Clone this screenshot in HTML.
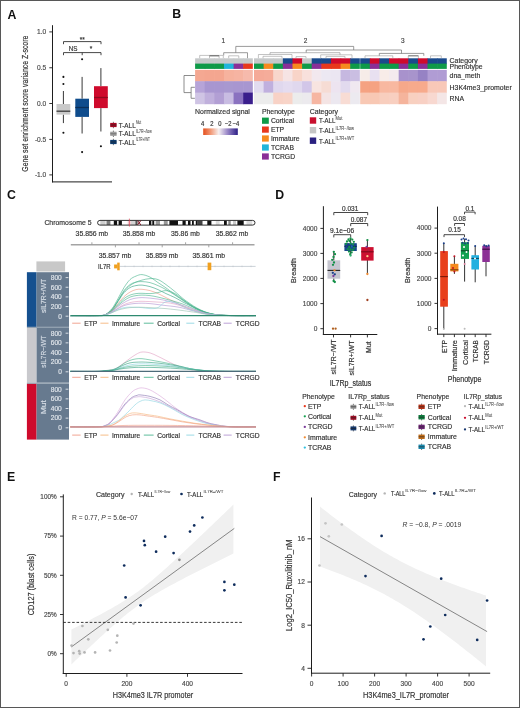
<!DOCTYPE html>
<html><head><meta charset="utf-8"><title>Figure</title>
<style>html,body{margin:0;padding:0;background:#fff;}body{width:520px;height:708px;overflow:hidden;font-family:"Liberation Sans",sans-serif;}svg{display:block;will-change:transform;filter:blur(0.3px);}</style>
</head><body>
<svg width="520" height="708" viewBox="0 0 520 708" font-family="'Liberation Sans', sans-serif"><text x="7.50" y="18.70" font-size="12.30" fill="#111" font-weight="bold" >A</text>
<line x1="52.50" y1="25.20" x2="52.50" y2="182.40" stroke="#1e1e1e" stroke-width="1" />
<line x1="52.00" y1="181.90" x2="112.00" y2="181.90" stroke="#1e1e1e" stroke-width="1" />
<line x1="49.30" y1="31.90" x2="52.50" y2="31.90" stroke="#1e1e1e" stroke-width="0.9" />
<text x="46.30" y="34.20" font-size="7.26" fill="#4a4a4a" text-anchor="end" textLength="9.18" lengthAdjust="spacingAndGlyphs" stroke="#4a4a4a" stroke-width="0.18" >1.0</text>
<line x1="49.30" y1="67.75" x2="52.50" y2="67.75" stroke="#1e1e1e" stroke-width="0.9" />
<text x="46.30" y="70.05" font-size="7.26" fill="#4a4a4a" text-anchor="end" textLength="9.18" lengthAdjust="spacingAndGlyphs" stroke="#4a4a4a" stroke-width="0.18" >0.5</text>
<line x1="49.30" y1="103.50" x2="52.50" y2="103.50" stroke="#1e1e1e" stroke-width="0.9" />
<text x="46.30" y="105.80" font-size="7.26" fill="#4a4a4a" text-anchor="end" textLength="9.18" lengthAdjust="spacingAndGlyphs" stroke="#4a4a4a" stroke-width="0.18" >0.0</text>
<line x1="49.30" y1="139.40" x2="52.50" y2="139.40" stroke="#1e1e1e" stroke-width="0.9" />
<text x="46.30" y="141.70" font-size="7.26" fill="#4a4a4a" text-anchor="end" textLength="11.37" lengthAdjust="spacingAndGlyphs" stroke="#4a4a4a" stroke-width="0.18" >-0.5</text>
<line x1="49.30" y1="174.90" x2="52.50" y2="174.90" stroke="#1e1e1e" stroke-width="0.9" />
<text x="46.30" y="177.20" font-size="7.26" fill="#4a4a4a" text-anchor="end" textLength="11.37" lengthAdjust="spacingAndGlyphs" stroke="#4a4a4a" stroke-width="0.18" >-1.0</text>
<text x="28.00" y="103.70" font-size="8.58" fill="#333333" text-anchor="middle" textLength="136.00" lengthAdjust="spacingAndGlyphs" transform="rotate(-90 28.00 103.70)" stroke="#333333" stroke-width="0.18" >Gene set enrichment score variance Z-score</text>
<path d="M63.50,44.20 L63.50,41.60 L101.00,41.60 L101.00,44.20" stroke="#333" fill="none" stroke-width="0.9" />
<path d="M63.50,55.20 L63.50,52.60 L101.00,52.60 L101.00,55.20" stroke="#333" fill="none" stroke-width="0.9" />
<line x1="82.20" y1="52.60" x2="82.20" y2="55.20" stroke="#333" stroke-width="0.9" />
<text x="82.30" y="41.80" font-size="7.15" fill="#333" text-anchor="middle" textLength="5.06" lengthAdjust="spacingAndGlyphs" stroke="#333" stroke-width="0.18" >**</text>
<text x="73.20" y="51.20" font-size="6.93" fill="#333" text-anchor="middle" textLength="8.75" lengthAdjust="spacingAndGlyphs" stroke="#333" stroke-width="0.18" >NS</text>
<text x="91.00" y="50.60" font-size="7.15" fill="#333" text-anchor="middle" textLength="2.53" lengthAdjust="spacingAndGlyphs" stroke="#333" stroke-width="0.18" >*</text>
<line x1="63.40" y1="91.00" x2="63.40" y2="104.00" stroke="#383838" stroke-width="1.0" />
<line x1="63.40" y1="114.60" x2="63.40" y2="123.10" stroke="#383838" stroke-width="1.0" />
<rect x="56.50" y="104.00" width="13.80" height="10.60" fill="#c9c9c9" />
<line x1="56.50" y1="111.20" x2="70.30" y2="111.20" stroke="#3b3b3b" stroke-width="1.3" />
<circle cx="63.40" cy="76.90" r="1.05" fill="#111" />
<circle cx="63.40" cy="84.00" r="1.05" fill="#111" />
<circle cx="63.40" cy="132.80" r="1.05" fill="#111" />
<line x1="82.10" y1="76.90" x2="82.10" y2="98.70" stroke="#383838" stroke-width="1.0" />
<line x1="82.10" y1="116.90" x2="82.10" y2="133.50" stroke="#383838" stroke-width="1.0" />
<rect x="75.30" y="98.70" width="13.70" height="18.20" fill="#0f4c8c" />
<line x1="75.30" y1="107.50" x2="89.00" y2="107.50" stroke="#0b2f58" stroke-width="1.3" />
<circle cx="82.10" cy="59.30" r="1.05" fill="#111" />
<circle cx="82.10" cy="152.10" r="1.05" fill="#111" />
<line x1="100.90" y1="68.10" x2="100.90" y2="86.20" stroke="#383838" stroke-width="1.0" />
<line x1="100.90" y1="108.10" x2="100.90" y2="131.50" stroke="#383838" stroke-width="1.0" />
<rect x="94.00" y="86.20" width="13.80" height="21.90" fill="#cf0a2c" />
<line x1="94.00" y1="97.50" x2="107.80" y2="97.50" stroke="#8e0a1f" stroke-width="1.3" />
<circle cx="100.90" cy="146.30" r="1.05" fill="#111" />
<line x1="113.40" y1="121.80" x2="113.40" y2="128.20" stroke="#555" stroke-width="0.8" />
<rect x="110.20" y="122.90" width="6.40" height="4.20" fill="#a50823" />
<line x1="110.20" y1="125.00" x2="116.60" y2="125.00" stroke="#222" stroke-width="0.6" />
<text x="118.70" y="127.50" font-size="7.70" fill="#333333" textLength="17.00" lengthAdjust="spacingAndGlyphs" stroke="#333333" stroke-width="0.18" >T-ALL</text>
<text x="136.00" y="124.10" font-size="4.62" fill="#444" textLength="5.25" lengthAdjust="spacingAndGlyphs" stroke="#444" stroke-width="0.05" >Mut</text>
<line x1="113.40" y1="130.60" x2="113.40" y2="137.00" stroke="#555" stroke-width="0.8" />
<rect x="110.20" y="131.70" width="6.40" height="4.20" fill="#a0a0a0" />
<line x1="110.20" y1="133.80" x2="116.60" y2="133.80" stroke="#555" stroke-width="0.6" />
<text x="118.70" y="136.30" font-size="7.70" fill="#333333" textLength="17.00" lengthAdjust="spacingAndGlyphs" stroke="#333333" stroke-width="0.18" >T-ALL</text>
<text x="136.00" y="132.90" font-size="4.62" fill="#444" textLength="15.75" lengthAdjust="spacingAndGlyphs" stroke="#444" stroke-width="0.05" >IL7R−/low</text>
<line x1="113.40" y1="138.80" x2="113.40" y2="145.20" stroke="#555" stroke-width="0.8" />
<rect x="110.20" y="139.90" width="6.40" height="4.20" fill="#0c3c70" />
<line x1="110.20" y1="142.00" x2="116.60" y2="142.00" stroke="#222" stroke-width="0.6" />
<text x="118.70" y="144.50" font-size="7.70" fill="#333333" textLength="17.00" lengthAdjust="spacingAndGlyphs" stroke="#333333" stroke-width="0.18" >T-ALL</text>
<text x="136.00" y="141.10" font-size="4.62" fill="#444" textLength="14.00" lengthAdjust="spacingAndGlyphs" stroke="#444" stroke-width="0.05" >IL7R+/WT</text>
<text x="172.30" y="17.60" font-size="12.30" fill="#111" font-weight="bold" >B</text>
<rect x="195.10" y="58.30" width="10.22" height="5.80" fill="#c6c9ca" />
<rect x="195.10" y="63.60" width="10.22" height="5.30" fill="#0e9a48" />
<rect x="195.10" y="69.90" width="10.22" height="11.80" fill="#f4a892" />
<rect x="195.10" y="81.20" width="10.22" height="11.90" fill="#b6a4d8" />
<rect x="195.10" y="92.60" width="10.22" height="11.60" fill="#cfc4e4" />
<rect x="204.72" y="58.30" width="10.22" height="5.80" fill="#c6c9ca" />
<rect x="204.72" y="63.60" width="10.22" height="5.30" fill="#0e9a48" />
<rect x="204.72" y="69.90" width="10.22" height="11.80" fill="#f4a690" />
<rect x="204.72" y="81.20" width="10.22" height="11.90" fill="#a896d0" />
<rect x="204.72" y="92.60" width="10.22" height="11.60" fill="#c0b0dc" />
<rect x="214.34" y="58.30" width="10.22" height="5.80" fill="#c6c9ca" />
<rect x="214.34" y="63.60" width="10.22" height="5.30" fill="#0e9a48" />
<rect x="214.34" y="69.90" width="10.22" height="11.80" fill="#f4a690" />
<rect x="214.34" y="81.20" width="10.22" height="11.90" fill="#a896d0" />
<rect x="214.34" y="92.60" width="10.22" height="11.60" fill="#b29fd4" />
<rect x="223.96" y="58.30" width="10.22" height="5.80" fill="#c6c9ca" />
<rect x="223.96" y="63.60" width="10.22" height="5.30" fill="#1fb5da" />
<rect x="223.96" y="69.90" width="10.22" height="11.80" fill="#f6b29e" />
<rect x="223.96" y="81.20" width="10.22" height="11.90" fill="#a898d0" />
<rect x="223.96" y="92.60" width="10.22" height="11.60" fill="#c8bce2" />
<rect x="233.58" y="58.30" width="10.22" height="5.80" fill="#c6c9ca" />
<rect x="233.58" y="63.60" width="10.22" height="5.30" fill="#8a2f97" />
<rect x="233.58" y="69.90" width="10.22" height="11.80" fill="#f6b4a2" />
<rect x="233.58" y="81.20" width="10.22" height="11.90" fill="#a896d0" />
<rect x="233.58" y="92.60" width="10.22" height="11.60" fill="#8a72c0" />
<rect x="243.20" y="58.30" width="9.62" height="5.80" fill="#c6c9ca" />
<rect x="243.20" y="63.60" width="9.62" height="5.30" fill="#e8381c" />
<rect x="243.20" y="69.90" width="9.62" height="11.80" fill="#f6baac" />
<rect x="243.20" y="81.20" width="9.62" height="11.90" fill="#a896d0" />
<rect x="243.20" y="92.60" width="9.62" height="11.60" fill="#3a1e8c" />
<rect x="254.00" y="58.30" width="10.22" height="5.80" fill="#c6c9ca" />
<rect x="254.00" y="63.60" width="10.22" height="5.30" fill="#0e9a48" />
<rect x="254.00" y="69.90" width="10.22" height="11.80" fill="#f5aa98" />
<rect x="254.00" y="81.20" width="10.22" height="11.90" fill="#e2dcf0" />
<rect x="254.00" y="92.60" width="10.22" height="11.60" fill="#ececec" />
<rect x="263.62" y="58.30" width="10.22" height="5.80" fill="#c6c9ca" />
<rect x="263.62" y="63.60" width="10.22" height="5.30" fill="#f68a1e" />
<rect x="263.62" y="69.90" width="10.22" height="11.80" fill="#f5ac9a" />
<rect x="263.62" y="81.20" width="10.22" height="11.90" fill="#c0b0de" />
<rect x="263.62" y="92.60" width="10.22" height="11.60" fill="#ececec" />
<rect x="273.24" y="58.30" width="10.22" height="5.80" fill="#c6c9ca" />
<rect x="273.24" y="63.60" width="10.22" height="5.30" fill="#0e9a48" />
<rect x="273.24" y="69.90" width="10.22" height="11.80" fill="#f8d6cc" />
<rect x="273.24" y="81.20" width="10.22" height="11.90" fill="#e0d8ee" />
<rect x="273.24" y="92.60" width="10.22" height="11.60" fill="#f8d2c6" />
<rect x="282.86" y="58.30" width="10.22" height="5.80" fill="#1a4a8c" />
<rect x="282.86" y="63.60" width="10.22" height="5.30" fill="#8a2f97" />
<rect x="282.86" y="69.90" width="10.22" height="11.80" fill="#f6e4e4" />
<rect x="282.86" y="81.20" width="10.22" height="11.90" fill="#e4dcf0" />
<rect x="282.86" y="92.60" width="10.22" height="11.60" fill="#f8d4c8" />
<rect x="292.48" y="58.30" width="10.22" height="5.80" fill="#cf0a2c" />
<rect x="292.48" y="63.60" width="10.22" height="5.30" fill="#f68a1e" />
<rect x="292.48" y="69.90" width="10.22" height="11.80" fill="#f8d4c8" />
<rect x="292.48" y="81.20" width="10.22" height="11.90" fill="#e0d8ee" />
<rect x="292.48" y="92.60" width="10.22" height="11.60" fill="#ececec" />
<rect x="302.10" y="58.30" width="10.22" height="5.80" fill="#c6c9ca" />
<rect x="302.10" y="63.60" width="10.22" height="5.30" fill="#0e9a48" />
<rect x="302.10" y="69.90" width="10.22" height="11.80" fill="#f8e0dc" />
<rect x="302.10" y="81.20" width="10.22" height="11.90" fill="#d2c6e8" />
<rect x="302.10" y="92.60" width="10.22" height="11.60" fill="#eceaee" />
<rect x="311.72" y="58.30" width="10.22" height="5.80" fill="#1a4a8c" />
<rect x="311.72" y="63.60" width="10.22" height="5.30" fill="#8a2f97" />
<rect x="311.72" y="69.90" width="10.22" height="11.80" fill="#f2e8ee" />
<rect x="311.72" y="81.20" width="10.22" height="11.90" fill="#f8e4e0" />
<rect x="311.72" y="92.60" width="10.22" height="11.60" fill="#f6b6a2" />
<rect x="321.34" y="58.30" width="10.22" height="5.80" fill="#1a4a8c" />
<rect x="321.34" y="63.60" width="10.22" height="5.30" fill="#e8381c" />
<rect x="321.34" y="69.90" width="10.22" height="11.80" fill="#ece8f2" />
<rect x="321.34" y="81.20" width="10.22" height="11.90" fill="#f6dcd4" />
<rect x="321.34" y="92.60" width="10.22" height="11.60" fill="#f4e4e4" />
<rect x="330.96" y="58.30" width="10.22" height="5.80" fill="#cf0a2c" />
<rect x="330.96" y="63.60" width="10.22" height="5.30" fill="#e8381c" />
<rect x="330.96" y="69.90" width="10.22" height="11.80" fill="#ebe6f2" />
<rect x="330.96" y="81.20" width="10.22" height="11.90" fill="#ede4f0" />
<rect x="330.96" y="92.60" width="10.22" height="11.60" fill="#ece8f0" />
<rect x="340.58" y="58.30" width="10.22" height="5.80" fill="#cf0a2c" />
<rect x="340.58" y="63.60" width="10.22" height="5.30" fill="#f68a1e" />
<rect x="340.58" y="69.90" width="10.22" height="11.80" fill="#c6b8e0" />
<rect x="340.58" y="81.20" width="10.22" height="11.90" fill="#e2daee" />
<rect x="340.58" y="92.60" width="10.22" height="11.60" fill="#f8dcd4" />
<rect x="350.20" y="58.30" width="9.62" height="5.80" fill="#1a4a8c" />
<rect x="350.20" y="63.60" width="9.62" height="5.30" fill="#0e9a48" />
<rect x="350.20" y="69.90" width="9.62" height="11.80" fill="#cabee2" />
<rect x="350.20" y="81.20" width="9.62" height="11.90" fill="#f0e8f0" />
<rect x="350.20" y="92.60" width="9.62" height="11.60" fill="#eceaf0" />
<rect x="360.20" y="58.30" width="10.22" height="5.80" fill="#1a4a8c" />
<rect x="360.20" y="63.60" width="10.22" height="5.30" fill="#0e9a48" />
<rect x="360.20" y="69.90" width="10.22" height="11.80" fill="#f6ece8" />
<rect x="360.20" y="81.20" width="10.22" height="11.90" fill="#f5a282" />
<rect x="360.20" y="92.60" width="10.22" height="11.60" fill="#f8c8b4" />
<rect x="369.82" y="58.30" width="10.22" height="5.80" fill="#cf0a2c" />
<rect x="369.82" y="63.60" width="10.22" height="5.30" fill="#8a2f97" />
<rect x="369.82" y="69.90" width="10.22" height="11.80" fill="#e8e0f0" />
<rect x="369.82" y="81.20" width="10.22" height="11.90" fill="#f5a282" />
<rect x="369.82" y="92.60" width="10.22" height="11.60" fill="#f8c8b4" />
<rect x="379.44" y="58.30" width="10.22" height="5.80" fill="#1a4a8c" />
<rect x="379.44" y="63.60" width="10.22" height="5.30" fill="#0e9a48" />
<rect x="379.44" y="69.90" width="10.22" height="11.80" fill="#f8ece8" />
<rect x="379.44" y="81.20" width="10.22" height="11.90" fill="#f8b8a0" />
<rect x="379.44" y="92.60" width="10.22" height="11.60" fill="#f8cebe" />
<rect x="389.06" y="58.30" width="10.22" height="5.80" fill="#cf0a2c" />
<rect x="389.06" y="63.60" width="10.22" height="5.30" fill="#0e9a48" />
<rect x="389.06" y="69.90" width="10.22" height="11.80" fill="#f4eaee" />
<rect x="389.06" y="81.20" width="10.22" height="11.90" fill="#f8b8a0" />
<rect x="389.06" y="92.60" width="10.22" height="11.60" fill="#f8cfc0" />
<rect x="398.68" y="58.30" width="10.22" height="5.80" fill="#cf0a2c" />
<rect x="398.68" y="63.60" width="10.22" height="5.30" fill="#8a2f97" />
<rect x="398.68" y="69.90" width="10.22" height="11.80" fill="#a892cc" />
<rect x="398.68" y="81.20" width="10.22" height="11.90" fill="#f6a88a" />
<rect x="398.68" y="92.60" width="10.22" height="11.60" fill="#f5b49c" />
<rect x="408.30" y="58.30" width="10.22" height="5.80" fill="#1a4a8c" />
<rect x="408.30" y="63.60" width="10.22" height="5.30" fill="#0e9a48" />
<rect x="408.30" y="69.90" width="10.22" height="11.80" fill="#a894cc" />
<rect x="408.30" y="81.20" width="10.22" height="11.90" fill="#f7aa8c" />
<rect x="408.30" y="92.60" width="10.22" height="11.60" fill="#f8d0c0" />
<rect x="417.92" y="58.30" width="10.22" height="5.80" fill="#cf0a2c" />
<rect x="417.92" y="63.60" width="10.22" height="5.30" fill="#8a2f97" />
<rect x="417.92" y="69.90" width="10.22" height="11.80" fill="#9682c4" />
<rect x="417.92" y="81.20" width="10.22" height="11.90" fill="#f7aa8c" />
<rect x="417.92" y="92.60" width="10.22" height="11.60" fill="#f8d0c4" />
<rect x="427.54" y="58.30" width="10.22" height="5.80" fill="#1a4a8c" />
<rect x="427.54" y="63.60" width="10.22" height="5.30" fill="#0e9a48" />
<rect x="427.54" y="69.90" width="10.22" height="11.80" fill="#b09cd4" />
<rect x="427.54" y="81.20" width="10.22" height="11.90" fill="#f8c8b8" />
<rect x="427.54" y="92.60" width="10.22" height="11.60" fill="#f8d8d0" />
<rect x="437.16" y="58.30" width="9.62" height="5.80" fill="#1a4a8c" />
<rect x="437.16" y="63.60" width="9.62" height="5.30" fill="#0e9a48" />
<rect x="437.16" y="69.90" width="9.62" height="11.80" fill="#b09cd4" />
<rect x="437.16" y="81.20" width="9.62" height="11.90" fill="#f8c8b8" />
<rect x="437.16" y="92.60" width="9.62" height="11.60" fill="#f4e6e6" />
<text x="449.60" y="63.00" font-size="7.59" fill="#333333" textLength="28.00" lengthAdjust="spacingAndGlyphs" stroke="#333333" stroke-width="0.18" >Category</text>
<text x="449.60" y="69.30" font-size="7.59" fill="#333333" textLength="32.99" lengthAdjust="spacingAndGlyphs" stroke="#333333" stroke-width="0.18" >Phenotype</text>
<text x="449.60" y="78.20" font-size="7.59" fill="#333333" textLength="30.69" lengthAdjust="spacingAndGlyphs" stroke="#333333" stroke-width="0.18" >dna_meth</text>
<text x="449.60" y="89.50" font-size="7.59" fill="#333333" textLength="62.13" lengthAdjust="spacingAndGlyphs" stroke="#333333" stroke-width="0.18" >H3K4me3_promoter</text>
<text x="449.60" y="101.00" font-size="7.59" fill="#333333" textLength="14.57" lengthAdjust="spacingAndGlyphs" stroke="#333333" stroke-width="0.18" >RNA</text>
<text x="223.20" y="42.60" font-size="7.15" fill="#444" text-anchor="middle" textLength="3.62" lengthAdjust="spacingAndGlyphs" stroke="#444" stroke-width="0.18" >1</text>
<text x="305.60" y="42.60" font-size="7.15" fill="#444" text-anchor="middle" textLength="3.62" lengthAdjust="spacingAndGlyphs" stroke="#444" stroke-width="0.18" >2</text>
<text x="402.80" y="42.60" font-size="7.15" fill="#444" text-anchor="middle" textLength="3.62" lengthAdjust="spacingAndGlyphs" stroke="#444" stroke-width="0.18" >3</text>
<path d="M235.8,52.7 L235.8,46.4 L353.7,46.4 L353.7,50.0" stroke="#707070" fill="none" stroke-width="0.7" />
<path d="M223.7,55.4 L223.7,52.7 L247.5,52.7 L247.5,58.2" stroke="#707070" fill="none" stroke-width="0.7" />
<path d="M306.2,52.7 L306.2,50.0 L401.5,50.0 L401.5,53.4" stroke="#707070" fill="none" stroke-width="0.7" />
<path d="M379.3,55.8 L379.3,53.4 L423.8,53.4 L423.8,55.8" stroke="#707070" fill="none" stroke-width="0.7" />
<path d="M270.0,54.5 L270.0,52.7 L340.0,52.7 L340.0,54.8" stroke="#9a9a9a" fill="none" stroke-width="0.7" />
<path d="M199.7,58.2 L199.7,55.4 L223.3,55.4 L223.3,58.2" stroke="#9a9a9a" fill="none" stroke-width="0.6" />
<path d="M209.5,58.2 L209.5,55.8 L219.1,55.8 L219.1,58.2" stroke="#9a9a9a" fill="none" stroke-width="0.6" />
<path d="M228.7,58.2 L228.7,55.8 L238.8,55.8 L238.8,58.2" stroke="#9a9a9a" fill="none" stroke-width="0.6" />
<path d="M258.4,58.2 L258.4,54.5 L292.0,54.5 L292.0,58.2" stroke="#9a9a9a" fill="none" stroke-width="0.6" />
<path d="M263.0,58.2 L263.0,56.3 L282.0,56.3 L282.0,58.2" stroke="#9a9a9a" fill="none" stroke-width="0.6" />
<path d="M320.7,58.2 L320.7,54.8 L352.0,54.8 L352.0,58.2" stroke="#9a9a9a" fill="none" stroke-width="0.6" />
<path d="M326.0,58.2 L326.0,56.4 L345.0,56.4 L345.0,58.2" stroke="#9a9a9a" fill="none" stroke-width="0.6" />
<path d="M365.0,58.2 L365.0,55.8 L392.8,55.8 L392.8,58.2" stroke="#9a9a9a" fill="none" stroke-width="0.6" />
<path d="M408.3,58.2 L408.3,55.8 L418.4,55.8 L418.4,58.2" stroke="#9a9a9a" fill="none" stroke-width="0.6" />
<path d="M430.5,58.2 L430.5,55.8 L441.3,55.8 L441.3,58.2" stroke="#9a9a9a" fill="none" stroke-width="0.6" />
<path d="M296.0,58.2 L296.0,56.6 L306.0,56.6 L306.0,58.2" stroke="#9a9a9a" fill="none" stroke-width="0.6" />
<path d="M209.5,55.8 L219.1,55.8" stroke="#555" fill="none" stroke-width="0.8" />
<path d="M408.3,55.8 L418.4,55.8" stroke="#666" fill="none" stroke-width="0.8" />
<path d="M194.9,75.5 L184.0,75.5 L184.0,92.6 L191.1,92.6" stroke="#707070" fill="none" stroke-width="0.8" />
<path d="M194.9,87.3 L191.1,87.3 L191.1,98.3 L194.9,98.3" stroke="#707070" fill="none" stroke-width="0.8" />
<text x="195.10" y="113.70" font-size="7.59" fill="#333333" textLength="54.80" lengthAdjust="spacingAndGlyphs" stroke="#333333" stroke-width="0.18" >Normalized signal</text>
<text x="202.60" y="125.60" font-size="6.38" fill="#333333" text-anchor="middle" textLength="3.23" lengthAdjust="spacingAndGlyphs" stroke="#333333" stroke-width="0.18" >4</text>
<text x="211.90" y="125.60" font-size="6.38" fill="#333333" text-anchor="middle" textLength="3.23" lengthAdjust="spacingAndGlyphs" stroke="#333333" stroke-width="0.18" >2</text>
<text x="219.80" y="125.60" font-size="6.38" fill="#333333" text-anchor="middle" textLength="3.23" lengthAdjust="spacingAndGlyphs" stroke="#333333" stroke-width="0.18" >0</text>
<text x="228.20" y="125.60" font-size="6.38" fill="#333333" text-anchor="middle" textLength="6.61" lengthAdjust="spacingAndGlyphs" stroke="#333333" stroke-width="0.18" >−2</text>
<text x="236.00" y="125.60" font-size="6.38" fill="#333333" text-anchor="middle" textLength="6.61" lengthAdjust="spacingAndGlyphs" stroke="#333333" stroke-width="0.18" >−4</text>
<defs><linearGradient id="gsig" x1="0" x2="1" y1="0" y2="0"><stop offset="0" stop-color="#e4501e"/><stop offset="0.22" stop-color="#f29a78"/><stop offset="0.45" stop-color="#f6f0f0"/><stop offset="0.7" stop-color="#9a88c8"/><stop offset="1" stop-color="#2c1e86"/></linearGradient></defs>
<rect x="203.20" y="128.40" width="34.60" height="6.60" fill="url(#gsig)" />
<text x="261.90" y="113.80" font-size="7.59" fill="#333333" textLength="32.90" lengthAdjust="spacingAndGlyphs" stroke="#333333" stroke-width="0.18" >Phenotype</text>
<rect x="262.00" y="117.60" width="6.80" height="6.20" fill="#0e9a48" />
<text x="270.90" y="123.20" font-size="7.48" fill="#333333" textLength="23.05" lengthAdjust="spacingAndGlyphs" stroke="#333333" stroke-width="0.18" >Cortical</text>
<rect x="262.00" y="126.50" width="6.80" height="6.20" fill="#e8381c" />
<text x="270.90" y="132.10" font-size="7.48" fill="#333333" textLength="13.23" lengthAdjust="spacingAndGlyphs" stroke="#333333" stroke-width="0.18" >ETP</text>
<rect x="262.00" y="135.40" width="6.80" height="6.20" fill="#f68a1e" />
<text x="270.90" y="141.00" font-size="7.48" fill="#333333" textLength="28.72" lengthAdjust="spacingAndGlyphs" stroke="#333333" stroke-width="0.18" >Immature</text>
<rect x="262.00" y="144.40" width="6.80" height="6.20" fill="#1fb5da" />
<text x="270.90" y="150.00" font-size="7.48" fill="#333333" textLength="23.05" lengthAdjust="spacingAndGlyphs" stroke="#333333" stroke-width="0.18" >TCRAB</text>
<rect x="262.00" y="153.40" width="6.80" height="6.20" fill="#8a2f97" />
<text x="270.90" y="159.00" font-size="7.48" fill="#333333" textLength="24.18" lengthAdjust="spacingAndGlyphs" stroke="#333333" stroke-width="0.18" >TCRGD</text>
<text x="309.80" y="113.80" font-size="7.59" fill="#333333" textLength="28.20" lengthAdjust="spacingAndGlyphs" stroke="#333333" stroke-width="0.18" >Category</text>
<rect x="309.80" y="117.30" width="6.40" height="6.40" fill="#c8102e" />
<text x="319.00" y="123.30" font-size="7.59" fill="#333333" textLength="16.30" lengthAdjust="spacingAndGlyphs" stroke="#333333" stroke-width="0.18" >T-ALL</text>
<text x="335.60" y="119.90" font-size="4.51" fill="#444" textLength="6.83" lengthAdjust="spacingAndGlyphs" stroke="#444" stroke-width="0.05" >Mut</text>
<rect x="309.80" y="127.00" width="6.40" height="6.40" fill="#c6c6c6" />
<text x="319.00" y="133.00" font-size="7.59" fill="#333333" textLength="16.30" lengthAdjust="spacingAndGlyphs" stroke="#333333" stroke-width="0.18" >T-ALL</text>
<text x="335.60" y="129.60" font-size="4.51" fill="#444" textLength="18.35" lengthAdjust="spacingAndGlyphs" stroke="#444" stroke-width="0.05" >IL7R−/low</text>
<rect x="309.80" y="137.50" width="6.40" height="6.40" fill="#2a2080" />
<text x="319.00" y="143.50" font-size="7.59" fill="#333333" textLength="16.30" lengthAdjust="spacingAndGlyphs" stroke="#333333" stroke-width="0.18" >T-ALL</text>
<text x="335.60" y="140.10" font-size="4.51" fill="#444" textLength="18.57" lengthAdjust="spacingAndGlyphs" stroke="#444" stroke-width="0.05" >IL7R+/WT</text>
<text x="7.10" y="199.00" font-size="12.30" fill="#111" font-weight="bold" >C</text>
<text x="44.40" y="224.60" font-size="7.59" fill="#333333" textLength="47.10" lengthAdjust="spacingAndGlyphs" stroke="#333333" stroke-width="0.18" >Chromosome 5</text>
<clipPath id="idc"><rect x="97.6" y="220.4" width="157.4" height="4.7" rx="2.35" ry="2.35"/></clipPath>
<rect x="97.6" y="220.4" width="157.4" height="4.7" rx="2.35" ry="2.35" fill="#fff"/>
<g clip-path="url(#idc)">
<rect x="100.30" y="220.40" width="5.30" height="4.70" fill="#cfcfcf" />
<rect x="106.50" y="220.40" width="3.90" height="4.70" fill="#7a7a7a" />
<rect x="113.80" y="220.40" width="3.30" height="4.70" fill="#111" />
<rect x="118.60" y="220.40" width="3.30" height="4.70" fill="#111" />
<rect x="127.70" y="220.40" width="3.30" height="4.70" fill="#f4d0d6" />
<rect x="131.00" y="220.40" width="4.40" height="4.70" fill="#d4d4d4" />
<rect x="135.40" y="220.40" width="2.20" height="4.70" fill="#555" />
<rect x="149.00" y="220.40" width="2.30" height="4.70" fill="#111" />
<rect x="152.30" y="220.40" width="1.90" height="4.70" fill="#111" />
<rect x="155.70" y="220.40" width="4.30" height="4.70" fill="#9a9a9a" />
<rect x="163.80" y="220.40" width="3.90" height="4.70" fill="#9a9a9a" />
<rect x="169.40" y="220.40" width="8.60" height="4.70" fill="#111" />
<rect x="182.50" y="220.40" width="3.20" height="4.70" fill="#111" />
<rect x="188.00" y="220.40" width="2.50" height="4.70" fill="#111" />
<rect x="192.00" y="220.40" width="1.80" height="4.70" fill="#111" />
<rect x="195.80" y="220.40" width="1.90" height="4.70" fill="#111" />
<rect x="197.70" y="220.40" width="4.80" height="4.70" fill="#444" />
<rect x="207.30" y="220.40" width="4.10" height="4.70" fill="#111" />
<rect x="215.80" y="220.40" width="3.80" height="4.70" fill="#dddddd" />
<rect x="224.00" y="220.40" width="2.80" height="4.70" fill="#111" />
<rect x="228.30" y="220.40" width="2.40" height="4.70" fill="#888" />
<rect x="233.00" y="220.40" width="3.00" height="4.70" fill="#cccccc" />
<rect x="237.40" y="220.40" width="6.30" height="4.70" fill="#111" />
<rect x="246.50" y="220.40" width="5.80" height="4.70" fill="#dddddd" />
</g>
<rect x="97.6" y="220.4" width="157.4" height="4.7" rx="2.35" ry="2.35" fill="none" stroke="#1a1a1a" stroke-width="0.9"/>
<path d="M137.6,220.6 L140.8,224.9 M137.6,224.9 L140.8,220.6" stroke="#7a1020" fill="none" stroke-width="1.0" />
<line x1="129.40" y1="218.60" x2="129.40" y2="226.60" stroke="#e04050" stroke-width="0.7" />
<line x1="70.80" y1="244.80" x2="254.50" y2="244.80" stroke="#a4a4a4" stroke-width="1.4" />
<line x1="91.90" y1="242.30" x2="91.90" y2="244.80" stroke="#9a9a9a" stroke-width="0.9" />
<line x1="139.00" y1="242.30" x2="139.00" y2="244.80" stroke="#9a9a9a" stroke-width="0.9" />
<line x1="185.60" y1="242.30" x2="185.60" y2="244.80" stroke="#9a9a9a" stroke-width="0.9" />
<line x1="232.60" y1="242.30" x2="232.60" y2="244.80" stroke="#9a9a9a" stroke-width="0.9" />
<line x1="115.40" y1="244.80" x2="115.40" y2="247.30" stroke="#9a9a9a" stroke-width="0.9" />
<line x1="162.20" y1="244.80" x2="162.20" y2="247.30" stroke="#9a9a9a" stroke-width="0.9" />
<line x1="208.80" y1="244.80" x2="208.80" y2="247.30" stroke="#9a9a9a" stroke-width="0.9" />
<text x="91.90" y="236.10" font-size="7.59" fill="#333333" text-anchor="middle" textLength="32.61" lengthAdjust="spacingAndGlyphs" stroke="#333333" stroke-width="0.18" >35.856 mb</text>
<text x="139.00" y="236.10" font-size="7.59" fill="#333333" text-anchor="middle" textLength="32.61" lengthAdjust="spacingAndGlyphs" stroke="#333333" stroke-width="0.18" >35.858 mb</text>
<text x="185.40" y="236.10" font-size="7.59" fill="#333333" text-anchor="middle" textLength="28.77" lengthAdjust="spacingAndGlyphs" stroke="#333333" stroke-width="0.18" >35.86 mb</text>
<text x="232.00" y="236.10" font-size="7.59" fill="#333333" text-anchor="middle" textLength="32.61" lengthAdjust="spacingAndGlyphs" stroke="#333333" stroke-width="0.18" >35.862 mb</text>
<text x="115.00" y="257.50" font-size="7.59" fill="#333333" text-anchor="middle" textLength="32.61" lengthAdjust="spacingAndGlyphs" stroke="#333333" stroke-width="0.18" >35.857 mb</text>
<text x="162.00" y="257.50" font-size="7.59" fill="#333333" text-anchor="middle" textLength="32.61" lengthAdjust="spacingAndGlyphs" stroke="#333333" stroke-width="0.18" >35.859 mb</text>
<text x="208.70" y="257.50" font-size="7.59" fill="#333333" text-anchor="middle" textLength="32.61" lengthAdjust="spacingAndGlyphs" stroke="#333333" stroke-width="0.18" >35.861 mb</text>
<text x="98.00" y="268.90" font-size="7.26" fill="#333333" textLength="12.60" lengthAdjust="spacingAndGlyphs" stroke="#333333" stroke-width="0.18" >IL7R</text>
<line x1="119.50" y1="266.40" x2="255.60" y2="266.40" stroke="#a8b4bc" stroke-width="0.6" />
<line x1="125.00" y1="265.60" x2="125.00" y2="267.20" stroke="#b0b8c0" stroke-width="0.5" />
<line x1="134.00" y1="265.60" x2="134.00" y2="267.20" stroke="#b0b8c0" stroke-width="0.5" />
<line x1="143.00" y1="265.60" x2="143.00" y2="267.20" stroke="#b0b8c0" stroke-width="0.5" />
<line x1="152.00" y1="265.60" x2="152.00" y2="267.20" stroke="#b0b8c0" stroke-width="0.5" />
<line x1="161.00" y1="265.60" x2="161.00" y2="267.20" stroke="#b0b8c0" stroke-width="0.5" />
<line x1="170.00" y1="265.60" x2="170.00" y2="267.20" stroke="#b0b8c0" stroke-width="0.5" />
<line x1="179.00" y1="265.60" x2="179.00" y2="267.20" stroke="#b0b8c0" stroke-width="0.5" />
<line x1="188.00" y1="265.60" x2="188.00" y2="267.20" stroke="#b0b8c0" stroke-width="0.5" />
<line x1="197.00" y1="265.60" x2="197.00" y2="267.20" stroke="#b0b8c0" stroke-width="0.5" />
<line x1="206.00" y1="265.60" x2="206.00" y2="267.20" stroke="#b0b8c0" stroke-width="0.5" />
<line x1="215.00" y1="265.60" x2="215.00" y2="267.20" stroke="#b0b8c0" stroke-width="0.5" />
<line x1="224.00" y1="265.60" x2="224.00" y2="267.20" stroke="#b0b8c0" stroke-width="0.5" />
<line x1="233.00" y1="265.60" x2="233.00" y2="267.20" stroke="#b0b8c0" stroke-width="0.5" />
<line x1="242.00" y1="265.60" x2="242.00" y2="267.20" stroke="#b0b8c0" stroke-width="0.5" />
<line x1="251.00" y1="265.60" x2="251.00" y2="267.20" stroke="#b0b8c0" stroke-width="0.5" />
<rect x="114.10" y="264.50" width="3.40" height="3.90" fill="#f0a020" />
<rect x="117.20" y="262.60" width="2.50" height="7.70" fill="#f0a020" />
<rect x="207.60" y="262.60" width="3.70" height="7.60" fill="#f0a020" />
<rect x="36.40" y="261.40" width="28.70" height="10.10" fill="#c8c8c8" />
<rect x="26.90" y="272.20" width="9.70" height="54.70" fill="#15508f" />
<rect x="36.60" y="272.20" width="32.40" height="54.70" fill="#677a8f" />
<text x="61.80" y="318.50" font-size="7.26" fill="#dfe4ea" text-anchor="end" textLength="3.67" lengthAdjust="spacingAndGlyphs" stroke="#dfe4ea" stroke-width="0.18" >0</text>
<line x1="65.60" y1="316.20" x2="68.40" y2="316.20" stroke="#e6eaef" stroke-width="0.9" />
<text x="61.80" y="308.85" font-size="7.26" fill="#dfe4ea" text-anchor="end" textLength="11.01" lengthAdjust="spacingAndGlyphs" stroke="#dfe4ea" stroke-width="0.18" >200</text>
<line x1="65.60" y1="306.55" x2="68.40" y2="306.55" stroke="#e6eaef" stroke-width="0.9" />
<text x="61.80" y="299.20" font-size="7.26" fill="#dfe4ea" text-anchor="end" textLength="11.01" lengthAdjust="spacingAndGlyphs" stroke="#dfe4ea" stroke-width="0.18" >400</text>
<line x1="65.60" y1="296.90" x2="68.40" y2="296.90" stroke="#e6eaef" stroke-width="0.9" />
<text x="61.80" y="289.55" font-size="7.26" fill="#dfe4ea" text-anchor="end" textLength="11.01" lengthAdjust="spacingAndGlyphs" stroke="#dfe4ea" stroke-width="0.18" >600</text>
<line x1="65.60" y1="287.25" x2="68.40" y2="287.25" stroke="#e6eaef" stroke-width="0.9" />
<text x="61.80" y="279.90" font-size="7.26" fill="#dfe4ea" text-anchor="end" textLength="11.01" lengthAdjust="spacingAndGlyphs" stroke="#dfe4ea" stroke-width="0.18" >800</text>
<line x1="65.60" y1="277.60" x2="68.40" y2="277.60" stroke="#e6eaef" stroke-width="0.9" />
<text x="45.60" y="295.90" font-size="7.70" fill="#d3dae3" text-anchor="middle" textLength="34.30" lengthAdjust="spacingAndGlyphs" transform="rotate(-90 45.60 295.90)" stroke="#d3dae3" stroke-width="0.18" >sIL7R+/WT</text>
<rect x="26.90" y="327.90" width="9.70" height="54.80" fill="#c9c9cd" />
<rect x="36.60" y="327.90" width="32.40" height="54.80" fill="#677a8f" />
<text x="61.80" y="374.10" font-size="7.26" fill="#dfe4ea" text-anchor="end" textLength="3.67" lengthAdjust="spacingAndGlyphs" stroke="#dfe4ea" stroke-width="0.18" >0</text>
<line x1="65.60" y1="371.80" x2="68.40" y2="371.80" stroke="#e6eaef" stroke-width="0.9" />
<text x="61.80" y="364.45" font-size="7.26" fill="#dfe4ea" text-anchor="end" textLength="11.01" lengthAdjust="spacingAndGlyphs" stroke="#dfe4ea" stroke-width="0.18" >200</text>
<line x1="65.60" y1="362.15" x2="68.40" y2="362.15" stroke="#e6eaef" stroke-width="0.9" />
<text x="61.80" y="354.80" font-size="7.26" fill="#dfe4ea" text-anchor="end" textLength="11.01" lengthAdjust="spacingAndGlyphs" stroke="#dfe4ea" stroke-width="0.18" >400</text>
<line x1="65.60" y1="352.50" x2="68.40" y2="352.50" stroke="#e6eaef" stroke-width="0.9" />
<text x="61.80" y="345.15" font-size="7.26" fill="#dfe4ea" text-anchor="end" textLength="11.01" lengthAdjust="spacingAndGlyphs" stroke="#dfe4ea" stroke-width="0.18" >600</text>
<line x1="65.60" y1="342.85" x2="68.40" y2="342.85" stroke="#e6eaef" stroke-width="0.9" />
<text x="61.80" y="335.50" font-size="7.26" fill="#dfe4ea" text-anchor="end" textLength="11.01" lengthAdjust="spacingAndGlyphs" stroke="#dfe4ea" stroke-width="0.18" >800</text>
<line x1="65.60" y1="333.20" x2="68.40" y2="333.20" stroke="#e6eaef" stroke-width="0.9" />
<text x="45.60" y="351.60" font-size="7.70" fill="#d3dae3" text-anchor="middle" textLength="32.30" lengthAdjust="spacingAndGlyphs" transform="rotate(-90 45.60 351.60)" stroke="#d3dae3" stroke-width="0.18" >sIL7R−/WT</text>
<rect x="26.90" y="383.70" width="9.70" height="55.90" fill="#cf0a2c" />
<rect x="36.60" y="383.70" width="32.40" height="55.90" fill="#677a8f" />
<text x="61.80" y="430.10" font-size="7.26" fill="#dfe4ea" text-anchor="end" textLength="3.67" lengthAdjust="spacingAndGlyphs" stroke="#dfe4ea" stroke-width="0.18" >0</text>
<line x1="65.60" y1="427.80" x2="68.40" y2="427.80" stroke="#e6eaef" stroke-width="0.9" />
<text x="61.80" y="420.45" font-size="7.26" fill="#dfe4ea" text-anchor="end" textLength="11.01" lengthAdjust="spacingAndGlyphs" stroke="#dfe4ea" stroke-width="0.18" >200</text>
<line x1="65.60" y1="418.15" x2="68.40" y2="418.15" stroke="#e6eaef" stroke-width="0.9" />
<text x="61.80" y="410.80" font-size="7.26" fill="#dfe4ea" text-anchor="end" textLength="11.01" lengthAdjust="spacingAndGlyphs" stroke="#dfe4ea" stroke-width="0.18" >400</text>
<line x1="65.60" y1="408.50" x2="68.40" y2="408.50" stroke="#e6eaef" stroke-width="0.9" />
<text x="61.80" y="401.15" font-size="7.26" fill="#dfe4ea" text-anchor="end" textLength="11.01" lengthAdjust="spacingAndGlyphs" stroke="#dfe4ea" stroke-width="0.18" >600</text>
<line x1="65.60" y1="398.85" x2="68.40" y2="398.85" stroke="#e6eaef" stroke-width="0.9" />
<text x="61.80" y="391.50" font-size="7.26" fill="#dfe4ea" text-anchor="end" textLength="11.01" lengthAdjust="spacingAndGlyphs" stroke="#dfe4ea" stroke-width="0.18" >800</text>
<line x1="65.60" y1="389.20" x2="68.40" y2="389.20" stroke="#e6eaef" stroke-width="0.9" />
<text x="45.60" y="407.20" font-size="7.70" fill="#d3dae3" text-anchor="middle" textLength="14.30" lengthAdjust="spacingAndGlyphs" transform="rotate(-90 45.60 407.20)" stroke="#d3dae3" stroke-width="0.18" >Mut</text>
<rect x="26.90" y="326.90" width="42.10" height="1.00" fill="#8797a8" />
<rect x="26.90" y="382.70" width="42.10" height="1.00" fill="#8797a8" />
<g fill="none" stroke-linejoin="round">
<path d="M70.0,315.6 C74.7,315.6 92.2,315.7 98.0,315.6 C103.8,315.5 102.7,316.0 105.0,314.8 C107.3,313.6 109.8,311.3 112.0,308.6 C114.2,305.9 116.0,302.1 118.0,298.6 C120.0,295.1 122.0,290.8 124.0,287.6 C126.0,284.4 128.0,281.5 130.0,279.6 C132.0,277.7 134.0,276.9 136.0,276.1 C138.0,275.3 139.7,274.4 142.0,274.6 C144.3,274.8 147.3,275.8 150.0,277.1 C152.7,278.4 155.3,280.8 158.0,282.6 C160.7,284.4 163.2,285.9 166.0,287.9 C168.8,289.9 172.2,292.6 175.0,294.6 C177.8,296.6 180.5,298.2 183.0,299.9 C185.5,301.6 187.7,303.1 190.0,304.6 C192.3,306.1 194.5,307.5 197.0,308.7 C199.5,310.0 202.3,311.2 205.0,312.1 C207.7,313.0 210.2,313.7 213.0,314.2 C215.8,314.7 218.2,315.0 222.0,315.2 C225.8,315.5 230.3,315.5 236.0,315.6 C241.7,315.7 252.7,315.6 256.0,315.6" stroke="#4cb590" fill="none" stroke-width="0.7" stroke-opacity="0.9"/>
<path d="M70.0,315.6 C74.7,315.6 92.2,315.7 98.0,315.6 C103.8,315.5 102.7,315.8 105.0,314.8 C107.3,313.8 109.8,312.0 112.0,309.6 C114.2,307.2 116.0,303.6 118.0,300.6 C120.0,297.6 122.0,294.1 124.0,291.6 C126.0,289.1 128.0,287.2 130.0,285.6 C132.0,284.0 134.0,283.0 136.0,282.1 C138.0,281.2 139.7,280.7 142.0,280.1 C144.3,279.5 147.3,278.7 150.0,278.6 C152.7,278.5 155.3,278.6 158.0,279.6 C160.7,280.6 163.2,282.6 166.0,284.6 C168.8,286.6 172.2,289.3 175.0,291.6 C177.8,293.9 180.5,296.6 183.0,298.6 C185.5,300.6 187.7,302.0 190.0,303.6 C192.3,305.2 194.5,306.7 197.0,308.1 C199.5,309.5 202.3,310.8 205.0,311.8 C207.7,312.8 210.2,313.5 213.0,314.1 C215.8,314.7 218.2,315.0 222.0,315.2 C225.8,315.5 230.3,315.5 236.0,315.6 C241.7,315.7 252.7,315.6 256.0,315.6" stroke="#4cb590" fill="none" stroke-width="0.7" stroke-opacity="0.9"/>
<path d="M70.0,315.6 C74.7,315.6 92.2,315.7 98.0,315.6 C103.8,315.5 102.7,315.8 105.0,314.8 C107.3,313.8 109.8,312.0 112.0,309.6 C114.2,307.2 116.0,303.8 118.0,300.6 C120.0,297.4 122.0,293.3 124.0,290.6 C126.0,287.9 128.0,286.0 130.0,284.6 C132.0,283.2 134.0,282.6 136.0,282.1 C138.0,281.6 139.7,281.5 142.0,281.6 C144.3,281.7 147.3,281.9 150.0,282.6 C152.7,283.3 155.3,284.4 158.0,285.6 C160.7,286.8 163.2,288.0 166.0,289.6 C168.8,291.2 172.2,293.3 175.0,295.1 C177.8,296.9 180.5,298.9 183.0,300.6 C185.5,302.3 187.7,303.7 190.0,305.1 C192.3,306.5 194.5,307.9 197.0,309.1 C199.5,310.3 202.3,311.4 205.0,312.3 C207.7,313.2 210.2,313.8 213.0,314.3 C215.8,314.8 218.2,315.1 222.0,315.3 C225.8,315.5 230.3,315.5 236.0,315.6 C241.7,315.7 252.7,315.6 256.0,315.6" stroke="#4cb590" fill="none" stroke-width="0.7" stroke-opacity="0.9"/>
<path d="M70.0,315.6 C74.7,315.6 92.2,315.7 98.0,315.6 C103.8,315.5 102.7,315.7 105.0,314.8 C107.3,313.9 109.8,312.3 112.0,310.1 C114.2,307.9 116.0,304.5 118.0,301.6 C120.0,298.7 122.0,294.9 124.0,292.6 C126.0,290.3 128.0,288.8 130.0,287.6 C132.0,286.4 134.0,286.0 136.0,285.6 C138.0,285.2 139.7,284.9 142.0,285.1 C144.3,285.3 147.3,285.9 150.0,286.6 C152.7,287.4 155.3,288.4 158.0,289.6 C160.7,290.8 163.2,292.3 166.0,293.6 C168.8,294.9 172.2,296.2 175.0,297.6 C177.8,299.0 180.5,300.8 183.0,302.1 C185.5,303.4 187.7,304.4 190.0,305.6 C192.3,306.8 194.5,308.0 197.0,309.1 C199.5,310.2 202.3,311.4 205.0,312.3 C207.7,313.2 210.2,313.8 213.0,314.3 C215.8,314.8 218.2,315.1 222.0,315.3 C225.8,315.5 230.3,315.5 236.0,315.6 C241.7,315.7 252.7,315.6 256.0,315.6" stroke="#36a382" fill="none" stroke-width="0.7" stroke-opacity="0.9"/>
<path d="M70.0,315.6 C74.7,315.6 92.2,315.7 98.0,315.6 C103.8,315.5 102.7,315.6 105.0,314.8 C107.3,314.0 109.8,312.5 112.0,310.6 C114.2,308.7 116.0,305.9 118.0,303.6 C120.0,301.3 122.0,298.5 124.0,296.6 C126.0,294.7 128.0,293.3 130.0,292.1 C132.0,290.9 134.0,290.1 136.0,289.6 C138.0,289.1 139.7,289.1 142.0,289.3 C144.3,289.5 147.3,289.9 150.0,290.6 C152.7,291.3 155.3,292.4 158.0,293.6 C160.7,294.8 163.2,296.2 166.0,297.6 C168.8,299.0 172.2,300.7 175.0,302.1 C177.8,303.5 180.5,304.9 183.0,306.1 C185.5,307.3 187.7,308.2 190.0,309.1 C192.3,310.0 194.5,310.9 197.0,311.6 C199.5,312.4 202.3,313.1 205.0,313.6 C207.7,314.1 210.2,314.5 213.0,314.8 C215.8,315.1 218.2,315.3 222.0,315.4 C225.8,315.5 230.3,315.6 236.0,315.6 C241.7,315.6 252.7,315.6 256.0,315.6" stroke="#ef9a86" fill="none" stroke-width="0.7" stroke-opacity="0.9"/>
<path d="M70.0,315.6 C74.7,315.6 92.2,315.7 98.0,315.6 C103.8,315.5 102.7,315.6 105.0,314.8 C107.3,314.0 109.8,312.3 112.0,310.6 C114.2,308.9 116.0,306.6 118.0,304.6 C120.0,302.6 122.0,300.2 124.0,298.6 C126.0,297.0 128.0,295.9 130.0,295.1 C132.0,294.3 134.0,293.9 136.0,293.6 C138.0,293.3 139.7,293.3 142.0,293.3 C144.3,293.3 147.3,293.7 150.0,293.6 C152.7,293.5 155.3,293.1 158.0,292.6 C160.7,292.1 163.2,290.4 166.0,290.6 C168.8,290.8 172.2,292.1 175.0,293.6 C177.8,295.1 180.5,297.8 183.0,299.6 C185.5,301.4 187.7,303.1 190.0,304.6 C192.3,306.1 194.5,307.4 197.0,308.6 C199.5,309.9 202.3,311.2 205.0,312.1 C207.7,313.0 210.2,313.7 213.0,314.2 C215.8,314.7 218.2,315.0 222.0,315.2 C225.8,315.5 230.3,315.5 236.0,315.6 C241.7,315.7 252.7,315.6 256.0,315.6" stroke="#4cb590" fill="none" stroke-width="0.7" stroke-opacity="0.9"/>
<path d="M70.0,315.6 C74.7,315.6 92.2,315.7 98.0,315.6 C103.8,315.5 102.7,315.6 105.0,314.8 C107.3,314.1 109.8,312.6 112.0,311.1 C114.2,309.6 116.0,307.4 118.0,305.6 C120.0,303.9 122.0,302.0 124.0,300.6 C126.0,299.2 128.0,297.9 130.0,297.1 C132.0,296.3 134.0,295.9 136.0,295.6 C138.0,295.3 139.7,295.1 142.0,295.1 C144.3,295.1 147.3,295.3 150.0,295.6 C152.7,295.9 155.3,296.5 158.0,297.1 C160.7,297.7 163.2,298.4 166.0,299.1 C168.8,299.9 172.2,300.8 175.0,301.6 C177.8,302.4 180.5,303.2 183.0,304.1 C185.5,305.0 187.7,306.1 190.0,307.1 C192.3,308.1 194.5,309.2 197.0,310.1 C199.5,311.1 202.3,312.1 205.0,312.8 C207.7,313.5 210.2,314.1 213.0,314.5 C215.8,314.9 218.2,315.1 222.0,315.3 C225.8,315.5 230.3,315.6 236.0,315.6 C241.7,315.6 252.7,315.6 256.0,315.6" stroke="#4cb590" fill="none" stroke-width="0.7" stroke-opacity="0.9"/>
<path d="M70.0,315.6 C74.7,315.6 92.2,315.7 98.0,315.6 C103.8,315.5 102.7,315.5 105.0,314.8 C107.3,314.1 109.8,313.0 112.0,311.6 C114.2,310.2 116.0,308.1 118.0,306.6 C120.0,305.1 122.0,303.8 124.0,302.6 C126.0,301.4 128.0,300.4 130.0,299.6 C132.0,298.9 134.0,298.4 136.0,298.1 C138.0,297.8 139.7,297.6 142.0,297.6 C144.3,297.6 147.3,297.9 150.0,298.1 C152.7,298.4 155.3,298.7 158.0,299.1 C160.7,299.5 163.2,299.9 166.0,300.6 C168.8,301.3 172.2,302.3 175.0,303.1 C177.8,303.9 180.5,304.8 183.0,305.6 C185.5,306.4 187.7,307.3 190.0,308.1 C192.3,308.9 194.5,309.8 197.0,310.6 C199.5,311.4 202.3,312.4 205.0,313.1 C207.7,313.8 210.2,314.2 213.0,314.6 C215.8,315.0 218.2,315.2 222.0,315.4 C225.8,315.5 230.3,315.6 236.0,315.6 C241.7,315.6 252.7,315.6 256.0,315.6" stroke="#b496d2" fill="none" stroke-width="0.7" stroke-opacity="0.9"/>
<path d="M70.0,315.6 C74.7,315.6 92.2,315.7 98.0,315.6 C103.8,315.5 102.7,315.4 105.0,314.8 C107.3,314.2 109.8,313.2 112.0,312.1 C114.2,311.0 116.0,309.4 118.0,308.1 C120.0,306.9 122.0,305.5 124.0,304.6 C126.0,303.7 128.0,303.1 130.0,302.6 C132.0,302.1 134.0,301.8 136.0,301.6 C138.0,301.4 139.7,301.3 142.0,301.3 C144.3,301.3 147.3,301.5 150.0,301.6 C152.7,301.7 155.3,301.9 158.0,302.1 C160.7,302.3 163.2,302.3 166.0,302.6 C168.8,302.9 172.2,303.4 175.0,304.1 C177.8,304.8 180.5,305.8 183.0,306.6 C185.5,307.4 187.7,308.4 190.0,309.1 C192.3,309.9 194.5,310.4 197.0,311.1 C199.5,311.8 202.3,312.7 205.0,313.3 C207.7,313.9 210.2,314.3 213.0,314.7 C215.8,315.0 218.2,315.2 222.0,315.4 C225.8,315.5 230.3,315.6 236.0,315.6 C241.7,315.6 252.7,315.6 256.0,315.6" stroke="#e2a2c4" fill="none" stroke-width="0.7" stroke-opacity="0.9"/>
<path d="M70.0,315.6 C74.7,315.6 92.2,315.7 98.0,315.6 C103.8,315.5 102.7,315.4 105.0,314.8 C107.3,314.2 109.8,313.1 112.0,312.1 C114.2,311.1 116.0,309.7 118.0,308.6 C120.0,307.5 122.0,306.4 124.0,305.6 C126.0,304.9 128.0,304.5 130.0,304.1 C132.0,303.7 134.0,303.6 136.0,303.4 C138.0,303.3 139.7,303.2 142.0,303.2 C144.3,303.2 147.3,303.4 150.0,303.6 C152.7,303.8 155.3,304.3 158.0,304.6 C160.7,304.9 163.2,305.3 166.0,305.6 C168.8,305.9 172.2,306.2 175.0,306.6 C177.8,307.0 180.5,307.5 183.0,308.1 C185.5,308.7 187.7,309.5 190.0,310.1 C192.3,310.7 194.5,311.2 197.0,311.8 C199.5,312.4 202.3,313.1 205.0,313.6 C207.7,314.1 210.2,314.5 213.0,314.8 C215.8,315.1 218.2,315.3 222.0,315.4 C225.8,315.5 230.3,315.6 236.0,315.6 C241.7,315.6 252.7,315.6 256.0,315.6" stroke="#b496d2" fill="none" stroke-width="0.7" stroke-opacity="0.9"/>
<path d="M70.0,315.6 C74.7,315.6 92.2,315.7 98.0,315.6 C103.8,315.5 102.7,315.3 105.0,314.8 C107.3,314.3 109.8,313.5 112.0,312.6 C114.2,311.7 116.0,310.4 118.0,309.6 C120.0,308.8 122.0,308.0 124.0,307.6 C126.0,307.2 128.0,307.2 130.0,307.1 C132.0,307.1 134.0,307.2 136.0,307.3 C138.0,307.4 139.7,307.4 142.0,307.6 C144.3,307.8 147.3,308.6 150.0,308.6 C152.7,308.6 155.3,308.8 158.0,307.6 C160.7,306.4 163.2,302.4 166.0,301.6 C168.8,300.8 172.2,301.8 175.0,302.6 C177.8,303.4 180.5,305.4 183.0,306.6 C185.5,307.8 187.7,308.8 190.0,309.6 C192.3,310.4 194.5,310.9 197.0,311.6 C199.5,312.3 202.3,313.1 205.0,313.6 C207.7,314.1 210.2,314.5 213.0,314.8 C215.8,315.1 218.2,315.3 222.0,315.4 C225.8,315.5 230.3,315.6 236.0,315.6 C241.7,315.6 252.7,315.6 256.0,315.6" stroke="#8fd6e2" fill="none" stroke-width="0.7" stroke-opacity="0.9"/>
<path d="M70.0,315.6 C74.7,315.6 92.2,315.7 98.0,315.6 C103.8,315.5 102.7,315.3 105.0,314.8 C107.3,314.3 109.8,313.4 112.0,312.6 C114.2,311.8 116.0,310.8 118.0,310.1 C120.0,309.4 122.0,309.0 124.0,308.6 C126.0,308.2 128.0,307.8 130.0,307.6 C132.0,307.4 134.0,307.4 136.0,307.3 C138.0,307.2 139.7,307.2 142.0,307.3 C144.3,307.4 147.3,307.5 150.0,307.6 C152.7,307.7 155.3,307.9 158.0,308.1 C160.7,308.3 163.2,308.4 166.0,308.6 C168.8,308.9 172.2,309.3 175.0,309.6 C177.8,309.9 180.5,310.3 183.0,310.6 C185.5,310.9 187.7,311.3 190.0,311.6 C192.3,311.9 194.5,312.2 197.0,312.6 C199.5,313.0 202.3,313.7 205.0,314.1 C207.7,314.5 210.2,314.8 213.0,315.0 C215.8,315.2 218.2,315.4 222.0,315.5 C225.8,315.6 230.3,315.6 236.0,315.6 C241.7,315.6 252.7,315.6 256.0,315.6" stroke="#9cc4b4" fill="none" stroke-width="0.7" stroke-opacity="0.9"/>
<line x1="70.60" y1="315.60" x2="256.00" y2="315.60" stroke="#2e8a70" stroke-width="1.1" />
</g>
<g fill="none" stroke-linejoin="round">
<path d="M70.0,371.4 C74.7,371.4 92.2,371.5 98.0,371.4 C103.8,371.3 102.7,370.8 105.0,370.6 C107.3,370.3 109.8,370.4 112.0,369.9 C114.2,369.4 116.0,368.6 118.0,367.4 C120.0,366.2 122.0,364.4 124.0,362.9 C126.0,361.4 128.0,359.8 130.0,358.4 C132.0,357.0 134.0,355.5 136.0,354.4 C138.0,353.3 139.7,352.2 142.0,352.0 C144.3,351.8 147.3,352.2 150.0,352.9 C152.7,353.6 155.3,355.1 158.0,356.4 C160.7,357.6 163.2,359.0 166.0,360.4 C168.8,361.8 172.2,363.7 175.0,364.9 C177.8,366.1 180.5,366.8 183.0,367.6 C185.5,368.3 187.7,368.9 190.0,369.4 C192.3,369.9 194.5,370.1 197.0,370.4 C199.5,370.7 202.3,370.9 205.0,371.0 C207.7,371.1 210.2,371.2 213.0,371.2 C215.8,371.3 218.2,371.3 222.0,371.4 C225.8,371.4 230.3,371.4 236.0,371.4 C241.7,371.4 252.7,371.4 256.0,371.4" stroke="#e2a2c4" fill="none" stroke-width="0.7" stroke-opacity="0.9"/>
<path d="M70.0,371.4 C74.7,371.4 92.2,371.5 98.0,371.4 C103.8,371.3 102.7,370.8 105.0,370.6 C107.3,370.3 109.8,370.4 112.0,369.9 C114.2,369.4 116.0,368.5 118.0,367.4 C120.0,366.3 122.0,364.6 124.0,363.4 C126.0,362.2 128.0,361.1 130.0,360.4 C132.0,359.6 134.0,359.2 136.0,358.9 C138.0,358.6 139.7,358.5 142.0,358.7 C144.3,358.9 147.3,359.4 150.0,359.9 C152.7,360.3 155.3,360.9 158.0,361.4 C160.7,361.9 163.2,362.3 166.0,362.9 C168.8,363.5 172.2,364.2 175.0,364.9 C177.8,365.6 180.5,366.3 183.0,366.9 C185.5,367.5 187.7,368.2 190.0,368.7 C192.3,369.2 194.5,369.6 197.0,369.9 C199.5,370.2 202.3,370.5 205.0,370.7 C207.7,370.9 210.2,371.0 213.0,371.1 C215.8,371.2 218.2,371.3 222.0,371.3 C225.8,371.4 230.3,371.4 236.0,371.4 C241.7,371.4 252.7,371.4 256.0,371.4" stroke="#4cb590" fill="none" stroke-width="0.7" stroke-opacity="0.9"/>
<path d="M70.0,371.4 C74.7,371.4 92.2,371.5 98.0,371.4 C103.8,371.3 102.7,370.8 105.0,370.6 C107.3,370.4 109.8,370.6 112.0,370.2 C114.2,369.8 116.0,368.8 118.0,367.9 C120.0,367.0 122.0,365.7 124.0,364.9 C126.0,364.1 128.0,363.3 130.0,362.9 C132.0,362.4 134.0,362.3 136.0,362.2 C138.0,362.1 139.7,362.0 142.0,362.0 C144.3,362.0 147.3,362.2 150.0,362.4 C152.7,362.6 155.3,362.8 158.0,363.1 C160.7,363.4 163.2,363.7 166.0,364.1 C168.8,364.5 172.2,365.1 175.0,365.6 C177.8,366.1 180.5,366.7 183.0,367.2 C185.5,367.7 187.7,368.2 190.0,368.6 C192.3,369.0 194.5,369.4 197.0,369.7 C199.5,370.0 202.3,370.4 205.0,370.6 C207.7,370.8 210.2,371.0 213.0,371.1 C215.8,371.2 218.2,371.3 222.0,371.3 C225.8,371.4 230.3,371.4 236.0,371.4 C241.7,371.4 252.7,371.4 256.0,371.4" stroke="#36a382" fill="none" stroke-width="0.7" stroke-opacity="0.9"/>
<path d="M70.0,371.4 C74.7,371.4 92.2,371.5 98.0,371.4 C103.8,371.3 102.7,370.8 105.0,370.6 C107.3,370.4 109.8,370.8 112.0,370.4 C114.2,370.0 116.0,369.1 118.0,368.4 C120.0,367.7 122.0,367.0 124.0,366.4 C126.0,365.8 128.0,365.3 130.0,364.9 C132.0,364.5 134.0,364.3 136.0,364.1 C138.0,363.9 139.7,363.8 142.0,363.8 C144.3,363.8 147.3,363.9 150.0,364.0 C152.7,364.1 155.3,364.4 158.0,364.6 C160.7,364.8 163.2,365.1 166.0,365.4 C168.8,365.7 172.2,366.0 175.0,366.4 C177.8,366.8 180.5,367.2 183.0,367.6 C185.5,368.0 187.7,368.4 190.0,368.8 C192.3,369.2 194.5,369.5 197.0,369.8 C199.5,370.1 202.3,370.4 205.0,370.6 C207.7,370.8 210.2,371.0 213.0,371.1 C215.8,371.2 218.2,371.3 222.0,371.3 C225.8,371.4 230.3,371.4 236.0,371.4 C241.7,371.4 252.7,371.4 256.0,371.4" stroke="#8fd6e2" fill="none" stroke-width="0.7" stroke-opacity="0.9"/>
<path d="M70.0,371.4 C74.7,371.4 92.2,371.5 98.0,371.4 C103.8,371.3 102.7,370.8 105.0,370.6 C107.3,370.4 109.8,370.7 112.0,370.4 C114.2,370.1 116.0,369.4 118.0,368.9 C120.0,368.4 122.0,367.8 124.0,367.4 C126.0,367.0 128.0,366.6 130.0,366.4 C132.0,366.1 134.0,366.0 136.0,365.9 C138.0,365.8 139.7,365.6 142.0,365.6 C144.3,365.5 147.3,365.5 150.0,365.6 C152.7,365.6 155.3,365.8 158.0,365.9 C160.7,366.0 163.2,366.2 166.0,366.4 C168.8,366.6 172.2,366.8 175.0,367.1 C177.8,367.4 180.5,367.7 183.0,368.0 C185.5,368.3 187.7,368.6 190.0,368.9 C192.3,369.2 194.5,369.5 197.0,369.8 C199.5,370.1 202.3,370.4 205.0,370.6 C207.7,370.8 210.2,371.0 213.0,371.1 C215.8,371.2 218.2,371.3 222.0,371.3 C225.8,371.4 230.3,371.4 236.0,371.4 C241.7,371.4 252.7,371.4 256.0,371.4" stroke="#4cb590" fill="none" stroke-width="0.7" stroke-opacity="0.9"/>
<path d="M70.0,371.4 C74.7,371.4 92.2,371.5 98.0,371.4 C103.8,371.3 102.7,370.7 105.0,370.6 C107.3,370.5 109.8,370.8 112.0,370.6 C114.2,370.4 116.0,369.8 118.0,369.4 C120.0,369.0 122.0,368.7 124.0,368.4 C126.0,368.1 128.0,368.0 130.0,367.8 C132.0,367.6 134.0,367.5 136.0,367.4 C138.0,367.3 139.7,367.4 142.0,367.4 C144.3,367.4 147.3,367.4 150.0,367.4 C152.7,367.4 155.3,367.5 158.0,367.6 C160.7,367.7 163.2,367.8 166.0,367.9 C168.8,368.0 172.2,368.2 175.0,368.4 C177.8,368.6 180.5,368.8 183.0,369.0 C185.5,369.2 187.7,369.4 190.0,369.6 C192.3,369.8 194.5,370.0 197.0,370.2 C199.5,370.4 202.3,370.6 205.0,370.8 C207.7,371.0 210.2,371.1 213.0,371.2 C215.8,371.2 218.2,371.3 222.0,371.3 C225.8,371.4 230.3,371.4 236.0,371.4 C241.7,371.4 252.7,371.4 256.0,371.4" stroke="#36a382" fill="none" stroke-width="0.7" stroke-opacity="0.9"/>
<line x1="70.60" y1="371.40" x2="256.00" y2="371.40" stroke="#4d6c7a" stroke-width="1.1" />
</g>
<g fill="none" stroke-linejoin="round">
<path d="M70.0,426.9 C74.7,426.9 92.2,427.1 98.0,426.9 C103.8,426.6 103.0,426.1 105.0,425.4 C107.0,424.7 107.9,424.6 110.0,422.5 C112.1,420.4 115.0,416.3 117.5,412.5 C120.0,408.7 122.6,403.3 125.0,399.9 C127.4,396.5 130.0,393.7 132.0,391.9 C134.0,390.1 135.2,389.6 137.0,388.9 C138.8,388.2 140.3,387.7 142.5,387.9 C144.7,388.1 147.1,388.6 150.0,389.9 C152.9,391.2 157.0,393.9 160.0,395.9 C163.0,397.9 165.5,400.0 168.0,401.9 C170.5,403.8 172.2,405.5 175.0,407.5 C177.8,409.5 181.7,412.0 185.0,413.9 C188.3,415.8 192.0,417.6 195.0,418.9 C198.0,420.2 200.5,421.1 203.0,421.9 C205.5,422.7 207.5,423.3 210.0,423.9 C212.5,424.5 215.3,425.2 218.0,425.6 C220.7,426.0 223.0,426.3 226.0,426.5 C229.0,426.7 231.0,426.8 236.0,426.9 C241.0,427.0 252.7,426.9 256.0,426.9" stroke="#dcaadc" fill="none" stroke-width="0.7" stroke-opacity="0.9"/>
<path d="M70.0,426.9 C74.7,426.9 92.2,427.1 98.0,426.9 C103.8,426.7 103.0,426.4 105.0,425.7 C107.0,425.0 107.9,424.8 110.0,422.9 C112.1,421.0 115.0,417.6 117.5,414.4 C120.0,411.2 122.6,406.7 125.0,403.9 C127.4,401.1 130.0,398.8 132.0,397.4 C134.0,396.0 135.7,395.8 137.0,395.4 C138.3,395.0 137.8,394.7 140.0,394.9 C142.2,395.1 146.7,395.6 150.0,396.4 C153.3,397.2 157.0,398.5 160.0,399.9 C163.0,401.3 165.1,403.2 168.0,404.9 C170.9,406.6 174.2,408.1 177.5,409.9 C180.8,411.7 184.2,414.2 188.0,415.9 C191.8,417.6 196.7,418.7 200.0,419.9 C203.3,421.1 205.5,422.1 208.0,422.9 C210.5,423.7 212.3,424.0 215.0,424.5 C217.7,425.0 220.5,425.7 224.0,426.1 C227.5,426.5 230.7,426.8 236.0,426.9 C241.3,427.0 252.7,426.9 256.0,426.9" stroke="#8a76b2" fill="none" stroke-width="0.7" stroke-opacity="0.9"/>
<path d="M70.0,426.9 C74.7,426.9 92.2,427.1 98.0,426.9 C103.8,426.7 103.0,426.4 105.0,425.7 C107.0,425.0 107.9,424.7 110.0,422.9 C112.1,421.1 115.0,417.9 117.5,414.9 C120.0,411.9 122.6,407.6 125.0,404.9 C127.4,402.1 130.0,399.7 132.0,398.4 C134.0,397.1 135.3,397.1 137.0,396.9 C138.7,396.6 139.8,396.6 142.0,396.9 C144.2,397.1 147.0,397.6 150.0,398.4 C153.0,399.2 157.0,400.6 160.0,401.9 C163.0,403.1 165.1,404.4 168.0,405.9 C170.9,407.4 174.2,409.1 177.5,410.9 C180.8,412.6 184.2,414.8 188.0,416.4 C191.8,418.0 196.7,419.3 200.0,420.4 C203.3,421.5 205.5,422.4 208.0,423.1 C210.5,423.8 212.3,424.2 215.0,424.7 C217.7,425.2 220.5,425.8 224.0,426.2 C227.5,426.6 230.7,426.8 236.0,426.9 C241.3,427.0 252.7,426.9 256.0,426.9" stroke="#c4a2d6" fill="none" stroke-width="0.7" stroke-opacity="0.9"/>
<path d="M70.0,426.9 C74.7,426.9 92.2,427.0 98.0,426.9 C103.8,426.8 103.0,426.5 105.0,426.1 C107.0,425.7 107.9,425.3 110.0,424.4 C112.1,423.5 115.8,421.7 117.5,420.9 C119.2,420.1 118.3,420.8 120.0,419.4 C121.7,418.0 125.0,414.9 127.5,412.5 C130.0,410.1 132.9,406.8 135.0,404.9 C137.1,403.0 138.3,402.2 140.0,401.4 C141.7,400.6 143.0,400.0 145.0,399.9 C147.0,399.8 149.5,400.4 152.0,400.9 C154.5,401.4 157.0,401.8 160.0,402.9 C163.0,404.0 166.3,405.6 170.0,407.5 C173.7,409.4 177.8,412.3 182.0,414.4 C186.2,416.5 191.2,418.4 195.0,419.9 C198.8,421.3 202.0,422.3 205.0,423.1 C208.0,423.9 210.2,424.4 213.0,424.9 C215.8,425.4 218.2,426.0 222.0,426.3 C225.8,426.6 230.3,426.8 236.0,426.9 C241.7,427.0 252.7,426.9 256.0,426.9" stroke="#8fd6e2" fill="none" stroke-width="0.7" stroke-opacity="0.9"/>
<path d="M70.0,426.9 C74.7,426.9 92.2,427.0 98.0,426.9 C103.8,426.8 102.6,426.7 105.0,426.4 C107.4,426.1 110.0,426.0 112.5,424.9 C115.0,423.8 117.8,421.5 120.0,419.9 C122.2,418.3 123.9,416.6 126.0,415.4 C128.1,414.2 130.2,413.2 132.5,412.9 C134.8,412.6 137.6,413.1 140.0,413.4 C142.4,413.7 144.1,414.1 147.0,414.6 C149.9,415.1 153.7,415.5 157.5,416.2 C161.3,416.9 165.8,418.1 170.0,418.9 C174.2,419.7 178.3,420.5 182.5,421.2 C186.7,421.9 190.8,422.7 195.0,423.3 C199.2,423.9 203.7,424.4 207.5,424.9 C211.3,425.3 213.2,425.7 218.0,426.0 C222.8,426.3 229.7,426.8 236.0,426.9 C242.3,427.0 252.7,426.9 256.0,426.9" stroke="#f5b67a" fill="none" stroke-width="0.7" stroke-opacity="0.9"/>
<path d="M70.0,426.9 C74.7,426.9 92.2,427.0 98.0,426.9 C103.8,426.8 102.6,426.8 105.0,426.5 C107.4,426.2 110.0,426.0 112.5,425.1 C115.0,424.2 117.8,422.3 120.0,420.9 C122.2,419.5 123.9,417.9 126.0,416.9 C128.1,415.9 130.2,415.2 132.5,414.9 C134.8,414.6 137.6,414.7 140.0,414.9 C142.4,415.1 144.1,415.5 147.0,415.9 C149.9,416.3 153.7,416.8 157.5,417.4 C161.3,418.0 165.8,418.8 170.0,419.6 C174.2,420.3 178.3,421.2 182.5,421.9 C186.7,422.6 190.8,423.2 195.0,423.7 C199.2,424.2 203.7,424.7 207.5,425.1 C211.3,425.5 213.2,425.8 218.0,426.1 C222.8,426.4 229.7,426.8 236.0,426.9 C242.3,427.0 252.7,426.9 256.0,426.9" stroke="#f2a080" fill="none" stroke-width="0.7" stroke-opacity="0.9"/>
<path d="M70.0,426.9 C74.7,426.9 91.3,427.0 98.0,426.9 C104.7,426.8 106.3,426.6 110.0,426.4 C113.7,426.2 115.0,425.8 120.0,425.6 C125.0,425.4 131.7,425.3 140.0,425.3 C148.3,425.3 160.0,425.3 170.0,425.4 C180.0,425.5 191.7,425.7 200.0,425.9 C208.3,426.1 214.0,426.3 220.0,426.5 C226.0,426.7 230.0,426.8 236.0,426.9 C242.0,427.0 252.7,426.9 256.0,426.9" stroke="#ef9a86" fill="none" stroke-width="0.7" stroke-opacity="0.9"/>
<line x1="70.60" y1="426.90" x2="256.00" y2="426.90" stroke="#c49098" stroke-width="1.1" />
</g>
<line x1="72.20" y1="323.20" x2="80.60" y2="323.20" stroke="#ef9a86" stroke-width="0.9" />
<text x="84.20" y="325.60" font-size="7.37" fill="#333333" textLength="13.03" lengthAdjust="spacingAndGlyphs" stroke="#333333" stroke-width="0.18" >ETP</text>
<line x1="100.40" y1="323.20" x2="108.50" y2="323.20" stroke="#f5b67a" stroke-width="0.9" />
<text x="112.00" y="325.60" font-size="7.37" fill="#333333" textLength="28.30" lengthAdjust="spacingAndGlyphs" stroke="#333333" stroke-width="0.18" >Immature</text>
<line x1="143.80" y1="323.20" x2="153.60" y2="323.20" stroke="#4cb590" stroke-width="0.9" />
<text x="157.20" y="325.60" font-size="7.37" fill="#333333" textLength="22.71" lengthAdjust="spacingAndGlyphs" stroke="#333333" stroke-width="0.18" >Cortical</text>
<line x1="186.30" y1="323.20" x2="194.30" y2="323.20" stroke="#8fd6e2" stroke-width="0.9" />
<text x="198.40" y="325.60" font-size="7.37" fill="#333333" textLength="22.71" lengthAdjust="spacingAndGlyphs" stroke="#333333" stroke-width="0.18" >TCRAB</text>
<line x1="223.60" y1="323.20" x2="231.70" y2="323.20" stroke="#b496d2" stroke-width="0.9" />
<text x="235.80" y="325.60" font-size="7.37" fill="#333333" textLength="23.82" lengthAdjust="spacingAndGlyphs" stroke="#333333" stroke-width="0.18" >TCRGD</text>
<line x1="72.20" y1="377.30" x2="80.60" y2="377.30" stroke="#ef9a86" stroke-width="0.9" />
<text x="84.20" y="379.70" font-size="7.37" fill="#333333" textLength="13.03" lengthAdjust="spacingAndGlyphs" stroke="#333333" stroke-width="0.18" >ETP</text>
<line x1="100.40" y1="377.30" x2="108.50" y2="377.30" stroke="#f5b67a" stroke-width="0.9" />
<text x="112.00" y="379.70" font-size="7.37" fill="#333333" textLength="28.30" lengthAdjust="spacingAndGlyphs" stroke="#333333" stroke-width="0.18" >Immature</text>
<line x1="143.80" y1="377.30" x2="153.60" y2="377.30" stroke="#4cb590" stroke-width="0.9" />
<text x="157.20" y="379.70" font-size="7.37" fill="#333333" textLength="22.71" lengthAdjust="spacingAndGlyphs" stroke="#333333" stroke-width="0.18" >Cortical</text>
<line x1="186.30" y1="377.30" x2="194.30" y2="377.30" stroke="#8fd6e2" stroke-width="0.9" />
<text x="198.40" y="379.70" font-size="7.37" fill="#333333" textLength="22.71" lengthAdjust="spacingAndGlyphs" stroke="#333333" stroke-width="0.18" >TCRAB</text>
<line x1="223.60" y1="377.30" x2="231.70" y2="377.30" stroke="#b496d2" stroke-width="0.9" />
<text x="235.80" y="379.70" font-size="7.37" fill="#333333" textLength="23.82" lengthAdjust="spacingAndGlyphs" stroke="#333333" stroke-width="0.18" >TCRGD</text>
<line x1="72.20" y1="435.10" x2="80.60" y2="435.10" stroke="#ef9a86" stroke-width="0.9" />
<text x="84.20" y="437.50" font-size="7.37" fill="#333333" textLength="13.03" lengthAdjust="spacingAndGlyphs" stroke="#333333" stroke-width="0.18" >ETP</text>
<line x1="100.40" y1="435.10" x2="108.50" y2="435.10" stroke="#f5b67a" stroke-width="0.9" />
<text x="112.00" y="437.50" font-size="7.37" fill="#333333" textLength="28.30" lengthAdjust="spacingAndGlyphs" stroke="#333333" stroke-width="0.18" >Immature</text>
<line x1="143.80" y1="435.10" x2="153.60" y2="435.10" stroke="#4cb590" stroke-width="0.9" />
<text x="157.20" y="437.50" font-size="7.37" fill="#333333" textLength="22.71" lengthAdjust="spacingAndGlyphs" stroke="#333333" stroke-width="0.18" >Cortical</text>
<line x1="186.30" y1="435.10" x2="194.30" y2="435.10" stroke="#8fd6e2" stroke-width="0.9" />
<text x="198.40" y="437.50" font-size="7.37" fill="#333333" textLength="22.71" lengthAdjust="spacingAndGlyphs" stroke="#333333" stroke-width="0.18" >TCRAB</text>
<line x1="223.60" y1="435.10" x2="231.70" y2="435.10" stroke="#b496d2" stroke-width="0.9" />
<text x="235.80" y="437.50" font-size="7.37" fill="#333333" textLength="23.82" lengthAdjust="spacingAndGlyphs" stroke="#333333" stroke-width="0.18" >TCRGD</text>
<text x="275.20" y="198.80" font-size="12.30" fill="#111" font-weight="bold" >D</text>
<line x1="323.40" y1="206.20" x2="323.40" y2="335.00" stroke="#1e1e1e" stroke-width="1.0" />
<line x1="320.40" y1="228.40" x2="323.40" y2="228.40" stroke="#1e1e1e" stroke-width="0.9" />
<text x="317.40" y="230.70" font-size="7.26" fill="#4a4a4a" text-anchor="end" textLength="14.68" lengthAdjust="spacingAndGlyphs" stroke="#4a4a4a" stroke-width="0.18" >4000</text>
<line x1="320.40" y1="253.40" x2="323.40" y2="253.40" stroke="#1e1e1e" stroke-width="0.9" />
<text x="317.40" y="255.70" font-size="7.26" fill="#4a4a4a" text-anchor="end" textLength="14.68" lengthAdjust="spacingAndGlyphs" stroke="#4a4a4a" stroke-width="0.18" >3000</text>
<line x1="320.40" y1="278.40" x2="323.40" y2="278.40" stroke="#1e1e1e" stroke-width="0.9" />
<text x="317.40" y="280.70" font-size="7.26" fill="#4a4a4a" text-anchor="end" textLength="14.68" lengthAdjust="spacingAndGlyphs" stroke="#4a4a4a" stroke-width="0.18" >2000</text>
<line x1="320.40" y1="303.60" x2="323.40" y2="303.60" stroke="#1e1e1e" stroke-width="0.9" />
<text x="317.40" y="305.90" font-size="7.26" fill="#4a4a4a" text-anchor="end" textLength="14.68" lengthAdjust="spacingAndGlyphs" stroke="#4a4a4a" stroke-width="0.18" >1000</text>
<line x1="320.40" y1="328.70" x2="323.40" y2="328.70" stroke="#1e1e1e" stroke-width="0.9" />
<text x="317.40" y="331.00" font-size="7.26" fill="#4a4a4a" text-anchor="end" textLength="3.67" lengthAdjust="spacingAndGlyphs" stroke="#4a4a4a" stroke-width="0.18" >0</text>
<line x1="322.90" y1="334.50" x2="377.30" y2="334.50" stroke="#1e1e1e" stroke-width="1.0" />
<line x1="333.50" y1="334.50" x2="333.50" y2="337.40" stroke="#1e1e1e" stroke-width="0.9" />
<line x1="350.60" y1="334.50" x2="350.60" y2="337.40" stroke="#1e1e1e" stroke-width="0.9" />
<line x1="367.40" y1="334.50" x2="367.40" y2="337.40" stroke="#1e1e1e" stroke-width="0.9" />
<text x="295.60" y="270.40" font-size="7.70" fill="#333333" text-anchor="middle" textLength="25.00" lengthAdjust="spacingAndGlyphs" transform="rotate(-90 295.60 270.40)" stroke="#333333" stroke-width="0.18" >Breadth</text>
<path d="M333.80,215.20 L333.80,212.50 L367.70,212.50 L367.70,215.20" stroke="#333" fill="none" stroke-width="0.9" />
<path d="M350.70,226.20 L350.70,223.50 L367.70,223.50 L367.70,226.20" stroke="#333" fill="none" stroke-width="0.9" />
<path d="M333.80,237.40 L333.80,234.70 L350.70,234.70 L350.70,237.40" stroke="#333" fill="none" stroke-width="0.9" />
<text x="350.20" y="211.20" font-size="7.15" fill="#333" text-anchor="middle" textLength="16.27" lengthAdjust="spacingAndGlyphs" stroke="#333" stroke-width="0.18" >0.031</text>
<text x="358.90" y="221.90" font-size="7.15" fill="#333" text-anchor="middle" textLength="16.27" lengthAdjust="spacingAndGlyphs" stroke="#333" stroke-width="0.18" >0.087</text>
<text x="342.10" y="232.60" font-size="7.15" fill="#333" text-anchor="middle" textLength="24.30" lengthAdjust="spacingAndGlyphs" stroke="#333" stroke-width="0.18" >9.1e−06</text>
<line x1="333.80" y1="251.80" x2="333.80" y2="282.00" stroke="#333333" stroke-width="1.0" />
<rect x="327.50" y="260.30" width="12.70" height="18.40" fill="#c6c6d0" fill-opacity="1.0"/>
<line x1="327.50" y1="270.40" x2="340.20" y2="270.40" stroke="#222" stroke-width="1.1" />
<line x1="350.60" y1="238.50" x2="350.60" y2="255.60" stroke="#333333" stroke-width="1.0" />
<rect x="344.40" y="243.20" width="12.40" height="7.80" fill="#1a4a8c" fill-opacity="1.0"/>
<line x1="344.40" y1="246.30" x2="356.80" y2="246.30" stroke="#0a2a50" stroke-width="1.1" />
<line x1="367.40" y1="240.10" x2="367.40" y2="274.00" stroke="#333333" stroke-width="1.0" />
<rect x="361.20" y="247.10" width="12.40" height="13.50" fill="#cc1030" fill-opacity="1.0"/>
<line x1="361.20" y1="251.80" x2="373.60" y2="251.80" stroke="#7a0a1a" stroke-width="1.1" />
<circle cx="333.80" cy="251.80" r="1.15" fill="#139048" />
<circle cx="335.00" cy="254.20" r="1.15" fill="#139048" />
<circle cx="333.50" cy="257.00" r="1.15" fill="#139048" />
<circle cx="332.20" cy="259.80" r="1.15" fill="#139048" />
<circle cx="334.00" cy="262.50" r="1.15" fill="#139048" />
<circle cx="333.00" cy="264.80" r="1.15" fill="#139048" />
<circle cx="334.50" cy="270.30" r="1.15" fill="#f08a30" />
<circle cx="332.80" cy="272.80" r="1.15" fill="#1a3f8a" />
<circle cx="334.80" cy="274.30" r="1.15" fill="#1a3f8a" />
<circle cx="333.40" cy="276.00" r="1.15" fill="#7a3a9a" />
<circle cx="333.60" cy="281.00" r="1.15" fill="#139048" />
<circle cx="334.80" cy="282.00" r="1.15" fill="#139048" />
<circle cx="333.00" cy="328.70" r="1.15" fill="#b06020" />
<circle cx="335.60" cy="328.70" r="1.15" fill="#b06020" />
<circle cx="348.50" cy="239.50" r="1.15" fill="#139048" />
<circle cx="350.50" cy="238.30" r="1.15" fill="#139048" />
<circle cx="352.30" cy="239.60" r="1.15" fill="#139048" />
<circle cx="347.00" cy="241.50" r="1.15" fill="#139048" />
<circle cx="349.50" cy="241.00" r="1.15" fill="#139048" />
<circle cx="353.80" cy="241.80" r="1.15" fill="#139048" />
<circle cx="346.00" cy="243.80" r="1.15" fill="#139048" />
<circle cx="348.00" cy="244.50" r="1.15" fill="#1a3f8a" />
<circle cx="350.60" cy="243.50" r="1.15" fill="#139048" />
<circle cx="353.20" cy="244.30" r="1.15" fill="#139048" />
<circle cx="355.20" cy="245.00" r="1.15" fill="#1a3f8a" />
<circle cx="346.60" cy="246.50" r="1.15" fill="#1a3f8a" />
<circle cx="349.20" cy="247.00" r="1.15" fill="#139048" />
<circle cx="351.80" cy="246.40" r="1.15" fill="#1a6ab0" />
<circle cx="354.20" cy="247.60" r="1.15" fill="#139048" />
<circle cx="347.80" cy="249.20" r="1.15" fill="#139048" />
<circle cx="350.40" cy="249.50" r="1.15" fill="#139048" />
<circle cx="352.80" cy="250.00" r="1.15" fill="#139048" />
<circle cx="349.00" cy="251.60" r="1.15" fill="#139048" />
<circle cx="351.60" cy="252.40" r="1.15" fill="#139048" />
<circle cx="350.20" cy="254.20" r="1.15" fill="#139048" />
<circle cx="350.60" cy="255.60" r="1.15" fill="#30b070" />
<circle cx="367.40" cy="240.10" r="1.15" fill="#139048" />
<circle cx="366.60" cy="246.80" r="1.15" fill="#7a3a9a" />
<circle cx="368.20" cy="250.00" r="1.15" fill="#b02040" />
<circle cx="367.40" cy="256.20" r="1.15" fill="#ffd090" />
<circle cx="367.40" cy="274.00" r="1.15" fill="#f08a30" />
<circle cx="367.40" cy="300.00" r="1.15" fill="#a04020" />
<text x="336.40" y="339.50" font-size="7.37" fill="#333333" text-anchor="end" textLength="34.90" lengthAdjust="spacingAndGlyphs" transform="rotate(-90 336.40 339.50)" stroke="#333333" stroke-width="0.18" >sIL7R−/WT</text>
<text x="354.40" y="340.60" font-size="7.37" fill="#333333" text-anchor="end" textLength="34.90" lengthAdjust="spacingAndGlyphs" transform="rotate(-90 354.40 340.60)" stroke="#333333" stroke-width="0.18" >sIL7R+/WT</text>
<text x="371.20" y="341.50" font-size="7.37" fill="#333333" text-anchor="end" textLength="11.60" lengthAdjust="spacingAndGlyphs" transform="rotate(-90 371.20 341.50)" stroke="#333333" stroke-width="0.18" >Mut</text>
<text x="350.50" y="386.00" font-size="8.36" fill="#333333" text-anchor="middle" textLength="41.70" lengthAdjust="spacingAndGlyphs" stroke="#333333" stroke-width="0.18" >IL7Rp_status</text>
<line x1="437.50" y1="206.60" x2="437.50" y2="334.70" stroke="#1e1e1e" stroke-width="1.0" />
<line x1="434.50" y1="228.10" x2="437.50" y2="228.10" stroke="#1e1e1e" stroke-width="0.9" />
<text x="431.50" y="230.40" font-size="7.26" fill="#4a4a4a" text-anchor="end" textLength="14.68" lengthAdjust="spacingAndGlyphs" stroke="#4a4a4a" stroke-width="0.18" >4000</text>
<line x1="434.50" y1="253.20" x2="437.50" y2="253.20" stroke="#1e1e1e" stroke-width="0.9" />
<text x="431.50" y="255.50" font-size="7.26" fill="#4a4a4a" text-anchor="end" textLength="14.68" lengthAdjust="spacingAndGlyphs" stroke="#4a4a4a" stroke-width="0.18" >3000</text>
<line x1="434.50" y1="278.40" x2="437.50" y2="278.40" stroke="#1e1e1e" stroke-width="0.9" />
<text x="431.50" y="280.70" font-size="7.26" fill="#4a4a4a" text-anchor="end" textLength="14.68" lengthAdjust="spacingAndGlyphs" stroke="#4a4a4a" stroke-width="0.18" >2000</text>
<line x1="434.50" y1="303.40" x2="437.50" y2="303.40" stroke="#1e1e1e" stroke-width="0.9" />
<text x="431.50" y="305.70" font-size="7.26" fill="#4a4a4a" text-anchor="end" textLength="14.68" lengthAdjust="spacingAndGlyphs" stroke="#4a4a4a" stroke-width="0.18" >1000</text>
<line x1="434.50" y1="328.60" x2="437.50" y2="328.60" stroke="#1e1e1e" stroke-width="0.9" />
<text x="431.50" y="330.90" font-size="7.26" fill="#4a4a4a" text-anchor="end" textLength="3.67" lengthAdjust="spacingAndGlyphs" stroke="#4a4a4a" stroke-width="0.18" >0</text>
<line x1="437.00" y1="334.20" x2="491.40" y2="334.20" stroke="#1e1e1e" stroke-width="1.0" />
<line x1="443.80" y1="334.20" x2="443.80" y2="337.10" stroke="#1e1e1e" stroke-width="0.9" />
<line x1="454.40" y1="334.20" x2="454.40" y2="337.10" stroke="#1e1e1e" stroke-width="0.9" />
<line x1="464.60" y1="334.20" x2="464.60" y2="337.10" stroke="#1e1e1e" stroke-width="0.9" />
<line x1="475.20" y1="334.20" x2="475.20" y2="337.10" stroke="#1e1e1e" stroke-width="0.9" />
<line x1="486.00" y1="334.20" x2="486.00" y2="337.10" stroke="#1e1e1e" stroke-width="0.9" />
<text x="409.80" y="270.30" font-size="7.70" fill="#333333" text-anchor="middle" textLength="25.30" lengthAdjust="spacingAndGlyphs" transform="rotate(-90 409.80 270.30)" stroke="#333333" stroke-width="0.18" >Breadth</text>
<path d="M464.50,214.30 L464.50,212.10 L475.10,212.10 L475.10,214.30" stroke="#333" fill="none" stroke-width="0.9" />
<path d="M454.60,225.90 L454.60,223.50 L464.50,223.50 L464.50,225.90" stroke="#333" fill="none" stroke-width="0.9" />
<path d="M444.00,237.10 L444.00,234.70 L464.50,234.70 L464.50,237.10" stroke="#333" fill="none" stroke-width="0.9" />
<text x="469.90" y="210.60" font-size="7.15" fill="#333" text-anchor="middle" textLength="9.04" lengthAdjust="spacingAndGlyphs" stroke="#333" stroke-width="0.18" >0.1</text>
<text x="459.50" y="221.20" font-size="7.15" fill="#333" text-anchor="middle" textLength="12.65" lengthAdjust="spacingAndGlyphs" stroke="#333" stroke-width="0.18" >0.08</text>
<text x="454.50" y="232.40" font-size="7.15" fill="#333" text-anchor="middle" textLength="12.65" lengthAdjust="spacingAndGlyphs" stroke="#333" stroke-width="0.18" >0.15</text>
<line x1="443.80" y1="243.00" x2="443.80" y2="329.00" stroke="#333333" stroke-width="1.0" />
<rect x="440.20" y="251.10" width="7.70" height="55.60" fill="#e8401c" fill-opacity="1.0"/>
<line x1="440.20" y1="276.60" x2="447.90" y2="276.60" stroke="#7a1a0a" stroke-width="1.1" />
<line x1="454.40" y1="256.30" x2="454.40" y2="273.90" stroke="#333333" stroke-width="1.0" />
<rect x="450.30" y="263.80" width="8.10" height="7.60" fill="#f58a1e" fill-opacity="1.0"/>
<line x1="450.30" y1="269.80" x2="458.40" y2="269.80" stroke="#7a3a0a" stroke-width="1.1" />
<line x1="464.60" y1="238.90" x2="464.60" y2="281.60" stroke="#333333" stroke-width="1.0" />
<rect x="460.90" y="242.20" width="8.10" height="16.70" fill="#12a050" fill-opacity="1.0"/>
<line x1="460.90" y1="250.80" x2="469.00" y2="250.80" stroke="#0a4a24" stroke-width="1.1" />
<line x1="475.20" y1="245.90" x2="475.20" y2="282.30" stroke="#333333" stroke-width="1.0" />
<rect x="471.40" y="255.20" width="7.60" height="14.30" fill="#22b0e0" fill-opacity="1.0"/>
<line x1="471.40" y1="258.40" x2="479.00" y2="258.40" stroke="#0a4a60" stroke-width="1.1" />
<line x1="486.00" y1="245.00" x2="486.00" y2="276.30" stroke="#333333" stroke-width="1.0" />
<rect x="482.30" y="245.80" width="7.50" height="16.20" fill="#8c3096" fill-opacity="1.0"/>
<line x1="482.30" y1="249.20" x2="489.80" y2="249.20" stroke="#3a0a40" stroke-width="1.1" />
<circle cx="443.80" cy="243.30" r="1.0" fill="#1a3f8a" />
<circle cx="443.80" cy="252.00" r="1.0" fill="#c01020" />
<circle cx="443.80" cy="299.80" r="1.0" fill="#c01020" />
<circle cx="443.80" cy="329.00" r="1.0" fill="#bbbbbb" />
<circle cx="454.40" cy="256.30" r="1.0" fill="#c01020" />
<circle cx="454.40" cy="271.40" r="1.0" fill="#c01020" />
<circle cx="453.00" cy="268.00" r="1.0" fill="#c01020" />
<circle cx="461.50" cy="239.50" r="1.0" fill="#1a3f8a" />
<circle cx="463.50" cy="238.60" r="1.0" fill="#1a3f8a" />
<circle cx="466.00" cy="239.20" r="1.0" fill="#1a3f8a" />
<circle cx="468.50" cy="240.40" r="1.0" fill="#1a3f8a" />
<circle cx="462.50" cy="242.80" r="1.0" fill="#1a3f8a" />
<circle cx="465.00" cy="243.40" r="1.0" fill="#1a3f8a" />
<circle cx="467.80" cy="243.00" r="1.0" fill="#1a3f8a" />
<circle cx="464.00" cy="247.00" r="1.0" fill="#ffffff" />
<circle cx="466.50" cy="252.00" r="1.0" fill="#ffffff" />
<circle cx="463.00" cy="255.50" r="1.0" fill="#ffffff" />
<circle cx="464.60" cy="264.00" r="1.0" fill="#e080a0" />
<circle cx="464.60" cy="328.70" r="1.0" fill="#bbbbbb" />
<circle cx="475.20" cy="245.90" r="1.0" fill="#1a3f8a" />
<circle cx="475.00" cy="258.50" r="1.0" fill="#ffffff" />
<circle cx="484.20" cy="245.20" r="1.0" fill="#1a3f8a" />
<circle cx="486.40" cy="246.20" r="1.0" fill="#1a3f8a" />
<circle cx="488.60" cy="245.40" r="1.0" fill="#1a3f8a" />
<text x="446.90" y="340.00" font-size="7.37" fill="#333333" text-anchor="end" textLength="13.00" lengthAdjust="spacingAndGlyphs" transform="rotate(-90 446.90 340.00)" stroke="#333333" stroke-width="0.18" >ETP</text>
<text x="457.30" y="340.00" font-size="7.37" fill="#333333" text-anchor="end" textLength="31.20" lengthAdjust="spacingAndGlyphs" transform="rotate(-90 457.30 340.00)" stroke="#333333" stroke-width="0.18" >Immature</text>
<text x="467.70" y="340.00" font-size="7.37" fill="#333333" text-anchor="end" textLength="25.00" lengthAdjust="spacingAndGlyphs" transform="rotate(-90 467.70 340.00)" stroke="#333333" stroke-width="0.18" >Cortical</text>
<text x="478.30" y="340.00" font-size="7.37" fill="#333333" text-anchor="end" textLength="22.30" lengthAdjust="spacingAndGlyphs" transform="rotate(-90 478.30 340.00)" stroke="#333333" stroke-width="0.18" >TCRAB</text>
<text x="488.80" y="340.00" font-size="7.37" fill="#333333" text-anchor="end" textLength="24.20" lengthAdjust="spacingAndGlyphs" transform="rotate(-90 488.80 340.00)" stroke="#333333" stroke-width="0.18" >TCRGD</text>
<text x="464.60" y="381.60" font-size="8.36" fill="#333333" text-anchor="middle" textLength="33.80" lengthAdjust="spacingAndGlyphs" stroke="#333333" stroke-width="0.18" >Phenotype</text>
<text x="302.30" y="399.00" font-size="7.59" fill="#333333" textLength="32.50" lengthAdjust="spacingAndGlyphs" stroke="#333333" stroke-width="0.18" >Phenotype</text>
<circle cx="304.80" cy="406.20" r="1.15" fill="#e8381c" />
<text x="308.00" y="408.60" font-size="7.59" fill="#333333" textLength="13.42" lengthAdjust="spacingAndGlyphs" stroke="#333333" stroke-width="0.18" >ETP</text>
<circle cx="304.80" cy="416.30" r="1.15" fill="#14a050" />
<text x="308.00" y="418.70" font-size="7.59" fill="#333333" textLength="23.39" lengthAdjust="spacingAndGlyphs" stroke="#333333" stroke-width="0.18" >Cortical</text>
<circle cx="304.80" cy="426.90" r="1.15" fill="#7a3a9a" />
<text x="308.00" y="429.30" font-size="7.59" fill="#333333" textLength="24.53" lengthAdjust="spacingAndGlyphs" stroke="#333333" stroke-width="0.18" >TCRGD</text>
<circle cx="304.80" cy="437.30" r="1.15" fill="#f08a30" />
<text x="308.00" y="439.70" font-size="7.59" fill="#333333" textLength="29.14" lengthAdjust="spacingAndGlyphs" stroke="#333333" stroke-width="0.18" >Immature</text>
<circle cx="304.80" cy="447.60" r="1.15" fill="#30c0e0" />
<text x="308.00" y="450.00" font-size="7.59" fill="#333333" textLength="23.39" lengthAdjust="spacingAndGlyphs" stroke="#333333" stroke-width="0.18" >TCRAB</text>
<text x="348.20" y="399.00" font-size="7.59" fill="#333333" textLength="41.20" lengthAdjust="spacingAndGlyphs" stroke="#333333" stroke-width="0.18" >IL7Rp_status</text>
<line x1="353.40" y1="403.80" x2="353.40" y2="409.80" stroke="#555" stroke-width="0.8" />
<rect x="350.50" y="404.80" width="5.80" height="4.00" fill="#9a9a9a" />
<line x1="350.50" y1="406.80" x2="356.30" y2="406.80" stroke="#222" stroke-width="0.6" />
<text x="358.80" y="409.30" font-size="7.59" fill="#333333" textLength="16.50" lengthAdjust="spacingAndGlyphs" stroke="#333333" stroke-width="0.18" >T-ALL</text>
<text x="375.60" y="406.10" font-size="4.51" fill="#444" textLength="18.35" lengthAdjust="spacingAndGlyphs" stroke="#444" stroke-width="0.05" >IL7R−/low</text>
<line x1="353.40" y1="414.80" x2="353.40" y2="420.80" stroke="#555" stroke-width="0.8" />
<rect x="350.50" y="415.80" width="5.80" height="4.00" fill="#9f0c25" />
<line x1="350.50" y1="417.80" x2="356.30" y2="417.80" stroke="#222" stroke-width="0.6" />
<text x="358.80" y="420.30" font-size="7.59" fill="#333333" textLength="16.50" lengthAdjust="spacingAndGlyphs" stroke="#333333" stroke-width="0.18" >T-ALL</text>
<text x="375.60" y="417.10" font-size="4.51" fill="#444" textLength="6.83" lengthAdjust="spacingAndGlyphs" stroke="#444" stroke-width="0.05" >Mut</text>
<line x1="353.40" y1="425.40" x2="353.40" y2="431.40" stroke="#555" stroke-width="0.8" />
<rect x="350.50" y="426.40" width="5.80" height="4.00" fill="#14396d" />
<line x1="350.50" y1="428.40" x2="356.30" y2="428.40" stroke="#222" stroke-width="0.6" />
<text x="358.80" y="430.90" font-size="7.59" fill="#333333" textLength="16.50" lengthAdjust="spacingAndGlyphs" stroke="#333333" stroke-width="0.18" >T-ALL</text>
<text x="375.60" y="427.70" font-size="4.51" fill="#444" textLength="18.57" lengthAdjust="spacingAndGlyphs" stroke="#444" stroke-width="0.05" >IL7R+/WT</text>
<text x="416.60" y="399.00" font-size="7.59" fill="#333333" textLength="32.80" lengthAdjust="spacingAndGlyphs" stroke="#333333" stroke-width="0.18" >Phenotype</text>
<line x1="421.60" y1="403.60" x2="421.60" y2="410.00" stroke="#555" stroke-width="0.8" />
<rect x="418.50" y="404.60" width="6.20" height="4.40" fill="#b43115" />
<line x1="418.50" y1="406.80" x2="424.70" y2="406.80" stroke="#222" stroke-width="0.6" />
<text x="427.80" y="409.20" font-size="7.59" fill="#333333" textLength="13.42" lengthAdjust="spacingAndGlyphs" stroke="#333333" stroke-width="0.18" >ETP</text>
<line x1="421.60" y1="414.00" x2="421.60" y2="420.40" stroke="#555" stroke-width="0.8" />
<rect x="418.50" y="415.00" width="6.20" height="4.40" fill="#0e7c3e" />
<line x1="418.50" y1="417.20" x2="424.70" y2="417.20" stroke="#222" stroke-width="0.6" />
<text x="427.80" y="419.60" font-size="7.59" fill="#333333" textLength="23.39" lengthAdjust="spacingAndGlyphs" stroke="#333333" stroke-width="0.18" >Cortical</text>
<line x1="421.60" y1="423.70" x2="421.60" y2="430.10" stroke="#555" stroke-width="0.8" />
<rect x="418.50" y="424.70" width="6.20" height="4.40" fill="#6d2575" />
<line x1="418.50" y1="426.90" x2="424.70" y2="426.90" stroke="#222" stroke-width="0.6" />
<text x="427.80" y="429.30" font-size="7.59" fill="#333333" textLength="24.53" lengthAdjust="spacingAndGlyphs" stroke="#333333" stroke-width="0.18" >TCRGD</text>
<line x1="421.60" y1="433.60" x2="421.60" y2="440.00" stroke="#555" stroke-width="0.8" />
<rect x="418.50" y="434.60" width="6.20" height="4.40" fill="#bf6b17" />
<line x1="418.50" y1="436.80" x2="424.70" y2="436.80" stroke="#222" stroke-width="0.6" />
<text x="427.80" y="439.20" font-size="7.59" fill="#333333" textLength="29.14" lengthAdjust="spacingAndGlyphs" stroke="#333333" stroke-width="0.18" >Immature</text>
<line x1="421.60" y1="443.60" x2="421.60" y2="450.00" stroke="#555" stroke-width="0.8" />
<rect x="418.50" y="444.60" width="6.20" height="4.40" fill="#1a89ae" />
<line x1="418.50" y1="446.80" x2="424.70" y2="446.80" stroke="#222" stroke-width="0.6" />
<text x="427.80" y="449.20" font-size="7.59" fill="#333333" textLength="23.39" lengthAdjust="spacingAndGlyphs" stroke="#333333" stroke-width="0.18" >TCRAB</text>
<text x="463.80" y="399.00" font-size="7.59" fill="#333333" textLength="38.10" lengthAdjust="spacingAndGlyphs" stroke="#333333" stroke-width="0.18" >IL7Rp_status</text>
<circle cx="465.00" cy="406.20" r="1.15" fill="#bbbbbb" />
<text x="468.50" y="408.70" font-size="7.59" fill="#333333" textLength="16.50" lengthAdjust="spacingAndGlyphs" stroke="#333333" stroke-width="0.18" >T-ALL</text>
<text x="485.30" y="405.50" font-size="4.51" fill="#444" textLength="18.35" lengthAdjust="spacingAndGlyphs" stroke="#444" stroke-width="0.05" >IL7R−/low</text>
<circle cx="465.00" cy="417.80" r="1.15" fill="#cc1030" />
<text x="468.50" y="420.30" font-size="7.59" fill="#333333" textLength="16.50" lengthAdjust="spacingAndGlyphs" stroke="#333333" stroke-width="0.18" >T-ALL</text>
<text x="485.30" y="417.10" font-size="4.51" fill="#444" textLength="6.83" lengthAdjust="spacingAndGlyphs" stroke="#444" stroke-width="0.05" >Mut</text>
<circle cx="465.00" cy="429.40" r="1.15" fill="#1a3a70" />
<text x="468.50" y="431.90" font-size="7.59" fill="#333333" textLength="16.50" lengthAdjust="spacingAndGlyphs" stroke="#333333" stroke-width="0.18" >T-ALL</text>
<text x="485.30" y="428.70" font-size="4.51" fill="#444" textLength="18.57" lengthAdjust="spacingAndGlyphs" stroke="#444" stroke-width="0.05" >IL7R+/WT</text>
<text x="6.90" y="480.90" font-size="12.30" fill="#111" font-weight="bold" >E</text>
<polygon points="71.4,629.4 73.4,628.4 75.4,627.4 77.4,626.4 79.4,625.4 81.4,624.3 83.4,623.3 85.4,622.3 87.4,621.3 89.4,620.2 91.4,619.2 93.4,618.1 95.4,617.1 97.4,616.0 99.4,615.0 101.4,613.9 103.4,612.8 105.4,611.7 107.4,610.6 109.4,609.5 111.4,608.4 113.4,607.3 115.4,606.1 117.4,604.9 119.4,603.7 121.4,602.5 123.4,601.3 125.4,600.1 127.4,598.8 129.4,597.5 131.4,596.1 133.4,594.7 135.4,593.3 137.4,591.9 139.4,590.4 141.4,588.9 143.4,587.4 145.4,585.8 147.4,584.2 149.4,582.6 151.4,580.9 153.4,579.2 155.4,577.5 157.4,575.8 159.4,574.0 161.4,572.3 163.4,570.5 165.4,568.7 167.4,566.9 169.4,565.1 171.4,563.3 173.4,561.4 175.4,559.6 177.4,557.8 179.4,555.9 181.4,554.0 183.4,552.2 185.4,550.3 187.4,548.4 189.4,546.5 191.4,544.7 193.4,542.8 195.4,540.9 197.4,539.0 199.4,537.1 201.4,535.2 203.4,533.3 205.4,531.4 207.4,529.5 209.4,527.6 211.4,525.7 213.4,523.8 215.4,521.8 217.4,519.9 219.4,518.0 221.4,516.1 223.4,514.2 225.4,512.3 227.4,510.3 229.4,508.4 231.4,506.5 233.4,504.6 233.4,553.5 231.4,554.5 229.4,555.5 227.4,556.5 225.4,557.5 223.4,558.5 221.4,559.5 219.4,560.5 217.4,561.5 215.4,562.5 213.4,563.4 211.4,564.4 209.4,565.4 207.4,566.5 205.4,567.5 203.4,568.5 201.4,569.5 199.4,570.5 197.4,571.5 195.4,572.5 193.4,573.5 191.4,574.6 189.4,575.6 187.4,576.6 185.4,577.6 183.4,578.7 181.4,579.7 179.4,580.8 177.4,581.8 175.4,582.9 173.4,584.0 171.4,585.0 169.4,586.1 167.4,587.2 165.4,588.3 163.4,589.5 161.4,590.6 159.4,591.7 157.4,592.9 155.4,594.1 153.4,595.3 151.4,596.5 149.4,597.8 147.4,599.0 145.4,600.3 143.4,601.7 141.4,603.1 139.4,604.5 137.4,605.9 135.4,607.4 133.4,608.9 131.4,610.4 129.4,612.0 127.4,613.6 125.4,615.2 123.4,616.8 121.4,618.5 119.4,620.2 117.4,621.9 115.4,623.7 113.4,625.4 111.4,627.2 109.4,629.0 107.4,630.8 105.4,632.6 103.4,634.4 101.4,636.3 99.4,638.1 97.4,639.9 95.4,641.8 93.4,643.7 91.4,645.5 89.4,647.4 87.4,649.3 85.4,651.2 83.4,653.0 81.4,654.9 79.4,656.8 77.4,658.7 75.4,660.6 73.4,662.5 71.4,664.4" fill="#f0f0f0"/>
<line x1="71.40" y1="646.90" x2="234.30" y2="528.40" stroke="#6a6a6a" stroke-width="0.8" />
<line x1="63.3" y1="622.4" x2="242.8" y2="622.4" stroke="#222" stroke-width="0.9" stroke-dasharray="2.6,1.8"/>
<line x1="63.30" y1="494.40" x2="63.30" y2="674.00" stroke="#1e1e1e" stroke-width="1.0" />
<line x1="60.00" y1="496.80" x2="63.30" y2="496.80" stroke="#1e1e1e" stroke-width="0.9" />
<text x="56.70" y="499.10" font-size="7.04" fill="#4a4a4a" text-anchor="end" textLength="16.37" lengthAdjust="spacingAndGlyphs" stroke="#4a4a4a" stroke-width="0.18" >100%</text>
<line x1="60.00" y1="536.10" x2="63.30" y2="536.10" stroke="#1e1e1e" stroke-width="0.9" />
<text x="56.70" y="538.40" font-size="7.04" fill="#4a4a4a" text-anchor="end" textLength="12.81" lengthAdjust="spacingAndGlyphs" stroke="#4a4a4a" stroke-width="0.18" >75%</text>
<line x1="60.00" y1="575.30" x2="63.30" y2="575.30" stroke="#1e1e1e" stroke-width="0.9" />
<text x="56.70" y="577.60" font-size="7.04" fill="#4a4a4a" text-anchor="end" textLength="12.81" lengthAdjust="spacingAndGlyphs" stroke="#4a4a4a" stroke-width="0.18" >50%</text>
<line x1="60.00" y1="614.50" x2="63.30" y2="614.50" stroke="#1e1e1e" stroke-width="0.9" />
<text x="56.70" y="616.80" font-size="7.04" fill="#4a4a4a" text-anchor="end" textLength="12.81" lengthAdjust="spacingAndGlyphs" stroke="#4a4a4a" stroke-width="0.18" >25%</text>
<line x1="60.00" y1="653.70" x2="63.30" y2="653.70" stroke="#1e1e1e" stroke-width="0.9" />
<text x="56.70" y="656.00" font-size="7.04" fill="#4a4a4a" text-anchor="end" textLength="9.25" lengthAdjust="spacingAndGlyphs" stroke="#4a4a4a" stroke-width="0.18" >0%</text>
<line x1="62.80" y1="673.50" x2="242.50" y2="673.50" stroke="#1e1e1e" stroke-width="1.0" />
<line x1="66.20" y1="673.50" x2="66.20" y2="676.80" stroke="#1e1e1e" stroke-width="0.9" />
<text x="66.20" y="685.60" font-size="7.26" fill="#4a4a4a" text-anchor="middle" textLength="3.67" lengthAdjust="spacingAndGlyphs" stroke="#4a4a4a" stroke-width="0.18" >0</text>
<line x1="126.90" y1="673.50" x2="126.90" y2="676.80" stroke="#1e1e1e" stroke-width="0.9" />
<text x="126.90" y="685.60" font-size="7.26" fill="#4a4a4a" text-anchor="middle" textLength="11.01" lengthAdjust="spacingAndGlyphs" stroke="#4a4a4a" stroke-width="0.18" >200</text>
<line x1="187.50" y1="673.50" x2="187.50" y2="676.80" stroke="#1e1e1e" stroke-width="0.9" />
<text x="187.50" y="685.60" font-size="7.26" fill="#4a4a4a" text-anchor="middle" textLength="11.01" lengthAdjust="spacingAndGlyphs" stroke="#4a4a4a" stroke-width="0.18" >400</text>
<text x="152.90" y="698.40" font-size="8.69" fill="#333333" text-anchor="middle" textLength="80.40" lengthAdjust="spacingAndGlyphs" stroke="#333333" stroke-width="0.18" >H3K4me3 IL7R promoter</text>
<text x="34.10" y="584.40" font-size="9.02" fill="#333333" text-anchor="middle" textLength="61.50" lengthAdjust="spacingAndGlyphs" transform="rotate(-90 34.10 584.40)" stroke="#333333" stroke-width="0.18" >CD127 (blast cells)</text>
<circle cx="82.40" cy="626.00" r="1.35" fill="#b4b4b4" />
<circle cx="88.30" cy="639.30" r="1.35" fill="#b4b4b4" />
<circle cx="73.50" cy="653.10" r="1.35" fill="#b4b4b4" />
<circle cx="79.20" cy="651.20" r="1.35" fill="#b4b4b4" />
<circle cx="79.70" cy="653.60" r="1.35" fill="#b4b4b4" />
<circle cx="84.50" cy="652.40" r="1.35" fill="#b4b4b4" />
<circle cx="95.10" cy="652.40" r="1.35" fill="#b4b4b4" />
<circle cx="107.80" cy="629.80" r="1.35" fill="#b4b4b4" />
<circle cx="110.00" cy="650.50" r="1.35" fill="#b4b4b4" />
<circle cx="117.30" cy="635.70" r="1.35" fill="#b4b4b4" />
<circle cx="116.70" cy="642.50" r="1.35" fill="#b4b4b4" />
<circle cx="133.50" cy="623.60" r="1.35" fill="#b4b4b4" />
<circle cx="71.60" cy="645.60" r="1.35" fill="#b4b4b4" />
<circle cx="179.40" cy="559.80" r="1.35" fill="#8c8c8c" />
<circle cx="202.40" cy="517.50" r="1.35" fill="#0e2c5c" />
<circle cx="194.20" cy="525.40" r="1.35" fill="#0e2c5c" />
<circle cx="190.00" cy="531.60" r="1.35" fill="#0e2c5c" />
<circle cx="144.00" cy="540.90" r="1.35" fill="#0e2c5c" />
<circle cx="144.80" cy="545.20" r="1.35" fill="#0e2c5c" />
<circle cx="165.20" cy="536.70" r="1.35" fill="#0e2c5c" />
<circle cx="156.10" cy="551.70" r="1.35" fill="#0e2c5c" />
<circle cx="173.60" cy="553.10" r="1.35" fill="#0e2c5c" />
<circle cx="124.20" cy="565.50" r="1.35" fill="#0e2c5c" />
<circle cx="125.60" cy="597.40" r="1.35" fill="#0e2c5c" />
<circle cx="140.60" cy="605.30" r="1.35" fill="#0e2c5c" />
<circle cx="224.40" cy="581.90" r="1.35" fill="#0e2c5c" />
<circle cx="234.30" cy="584.70" r="1.35" fill="#0e2c5c" />
<circle cx="224.40" cy="590.30" r="1.35" fill="#0e2c5c" />
<text x="95.90" y="496.50" font-size="7.59" fill="#333333" textLength="28.60" lengthAdjust="spacingAndGlyphs" stroke="#333333" stroke-width="0.18" >Category</text>
<circle cx="131.70" cy="494.00" r="1.2" fill="#b4b4b4" />
<text x="137.90" y="496.60" font-size="7.59" fill="#333333" textLength="16.20" lengthAdjust="spacingAndGlyphs" stroke="#333333" stroke-width="0.18" >T-ALL</text>
<text x="154.60" y="492.90" font-size="4.40" fill="#444" textLength="15.60" lengthAdjust="spacingAndGlyphs" stroke="#444" stroke-width="0.05" >IL7R−/low</text>
<circle cx="181.50" cy="494.00" r="1.35" fill="#0e2c5c" />
<text x="187.00" y="496.60" font-size="7.59" fill="#333333" textLength="16.10" lengthAdjust="spacingAndGlyphs" stroke="#333333" stroke-width="0.18" >T-ALL</text>
<text x="203.60" y="492.90" font-size="4.40" fill="#444" textLength="19.70" lengthAdjust="spacingAndGlyphs" stroke="#444" stroke-width="0.05" >IL7R+/WT</text>
<text x="72.0" y="519.9" font-size="6.9" fill="#333" textLength="65.8" lengthAdjust="spacingAndGlyphs">R = 0.77, <tspan font-style="italic">P</tspan> = 5.6e−07</text>
<text x="273.00" y="480.60" font-size="12.30" fill="#111" font-weight="bold" >F</text>
<polygon points="320.0,506.6 322.0,508.2 324.0,509.7 326.0,511.3 328.0,512.8 330.0,514.4 332.0,515.9 334.0,517.4 336.0,518.9 338.0,520.4 340.0,521.9 342.0,523.4 344.0,524.9 346.0,526.4 348.0,527.8 350.0,529.3 352.0,530.7 354.0,532.1 356.0,533.5 358.0,534.9 360.0,536.3 362.0,537.7 364.0,539.1 366.0,540.4 368.0,541.8 370.0,543.1 372.0,544.4 374.0,545.7 376.0,546.9 378.0,548.2 380.0,549.4 382.0,550.7 384.0,551.9 386.0,553.1 388.0,554.2 390.0,555.4 392.0,556.5 394.0,557.7 396.0,558.8 398.0,559.8 400.0,560.9 402.0,562.0 404.0,563.0 406.0,564.0 408.0,565.0 410.0,566.0 412.0,567.0 414.0,567.9 416.0,568.9 418.0,569.8 420.0,570.7 422.0,571.6 424.0,572.5 426.0,573.4 428.0,574.3 430.0,575.1 432.0,575.9 434.0,576.8 436.0,577.6 438.0,578.4 440.0,579.2 442.0,580.0 444.0,580.8 446.0,581.5 448.0,582.3 450.0,583.0 452.0,583.8 454.0,584.5 456.0,585.3 458.0,586.0 460.0,586.7 462.0,587.4 464.0,588.1 466.0,588.8 468.0,589.5 470.0,590.2 472.0,590.9 474.0,591.6 476.0,592.2 478.0,592.9 480.0,593.6 482.0,594.2 484.0,594.9 486.0,595.5 486.0,666.4 484.0,664.8 482.0,663.2 480.0,661.6 478.0,659.9 476.0,658.3 474.0,656.7 472.0,655.1 470.0,653.6 468.0,652.0 466.0,650.4 464.0,648.8 462.0,647.2 460.0,645.7 458.0,644.1 456.0,642.6 454.0,641.0 452.0,639.5 450.0,638.0 448.0,636.5 446.0,634.9 444.0,633.4 442.0,631.9 440.0,630.4 438.0,629.0 436.0,627.5 434.0,626.0 432.0,624.6 430.0,623.2 428.0,621.7 426.0,620.3 424.0,618.9 422.0,617.5 420.0,616.2 418.0,614.8 416.0,613.5 414.0,612.1 412.0,610.8 410.0,609.5 408.0,608.2 406.0,607.0 404.0,605.7 402.0,604.5 400.0,603.2 398.0,602.0 396.0,600.9 394.0,599.7 392.0,598.5 390.0,597.4 388.0,596.3 386.0,595.2 384.0,594.1 382.0,593.0 380.0,592.0 378.0,590.9 376.0,589.9 374.0,588.9 372.0,587.9 370.0,587.0 368.0,586.0 366.0,585.1 364.0,584.2 362.0,583.2 360.0,582.3 358.0,581.5 356.0,580.6 354.0,579.7 352.0,578.9 350.0,578.0 348.0,577.2 346.0,576.4 344.0,575.6 342.0,574.8 340.0,574.0 338.0,573.2 336.0,572.5 334.0,571.7 332.0,571.0 330.0,570.2 328.0,569.5 326.0,568.8 324.0,568.0 322.0,567.3 320.0,566.6" fill="#f0f0f0"/>
<line x1="320.00" y1="536.60" x2="487.10" y2="631.60" stroke="#6a6a6a" stroke-width="0.8" />
<line x1="311.50" y1="497.50" x2="311.50" y2="673.70" stroke="#1e1e1e" stroke-width="1.0" />
<line x1="307.50" y1="538.80" x2="311.50" y2="538.80" stroke="#1e1e1e" stroke-width="0.9" />
<text x="304.90" y="541.10" font-size="7.26" fill="#4a4a4a" text-anchor="end" textLength="7.34" lengthAdjust="spacingAndGlyphs" stroke="#4a4a4a" stroke-width="0.18" >16</text>
<line x1="307.50" y1="582.00" x2="311.50" y2="582.00" stroke="#1e1e1e" stroke-width="0.9" />
<text x="304.90" y="584.30" font-size="7.26" fill="#4a4a4a" text-anchor="end" textLength="7.34" lengthAdjust="spacingAndGlyphs" stroke="#4a4a4a" stroke-width="0.18" >12</text>
<line x1="307.50" y1="625.20" x2="311.50" y2="625.20" stroke="#1e1e1e" stroke-width="0.9" />
<text x="304.90" y="627.50" font-size="7.26" fill="#4a4a4a" text-anchor="end" textLength="3.67" lengthAdjust="spacingAndGlyphs" stroke="#4a4a4a" stroke-width="0.18" >8</text>
<line x1="307.50" y1="668.30" x2="311.50" y2="668.30" stroke="#1e1e1e" stroke-width="0.9" />
<text x="304.90" y="670.60" font-size="7.26" fill="#4a4a4a" text-anchor="end" textLength="3.67" lengthAdjust="spacingAndGlyphs" stroke="#4a4a4a" stroke-width="0.18" >4</text>
<line x1="311.00" y1="673.20" x2="490.20" y2="673.20" stroke="#1e1e1e" stroke-width="1.0" />
<line x1="311.60" y1="673.20" x2="311.60" y2="676.50" stroke="#1e1e1e" stroke-width="0.9" />
<text x="311.60" y="685.60" font-size="7.26" fill="#4a4a4a" text-anchor="middle" textLength="3.67" lengthAdjust="spacingAndGlyphs" stroke="#4a4a4a" stroke-width="0.18" >0</text>
<line x1="343.10" y1="673.20" x2="343.10" y2="676.50" stroke="#1e1e1e" stroke-width="0.9" />
<text x="343.10" y="685.60" font-size="7.26" fill="#4a4a4a" text-anchor="middle" textLength="11.01" lengthAdjust="spacingAndGlyphs" stroke="#4a4a4a" stroke-width="0.18" >100</text>
<line x1="374.60" y1="673.20" x2="374.60" y2="676.50" stroke="#1e1e1e" stroke-width="0.9" />
<text x="374.60" y="685.60" font-size="7.26" fill="#4a4a4a" text-anchor="middle" textLength="11.01" lengthAdjust="spacingAndGlyphs" stroke="#4a4a4a" stroke-width="0.18" >200</text>
<line x1="406.10" y1="673.20" x2="406.10" y2="676.50" stroke="#1e1e1e" stroke-width="0.9" />
<text x="406.10" y="685.60" font-size="7.26" fill="#4a4a4a" text-anchor="middle" textLength="11.01" lengthAdjust="spacingAndGlyphs" stroke="#4a4a4a" stroke-width="0.18" >300</text>
<line x1="437.60" y1="673.20" x2="437.60" y2="676.50" stroke="#1e1e1e" stroke-width="0.9" />
<text x="437.60" y="685.60" font-size="7.26" fill="#4a4a4a" text-anchor="middle" textLength="11.01" lengthAdjust="spacingAndGlyphs" stroke="#4a4a4a" stroke-width="0.18" >400</text>
<line x1="469.10" y1="673.20" x2="469.10" y2="676.50" stroke="#1e1e1e" stroke-width="0.9" />
<text x="469.10" y="685.60" font-size="7.26" fill="#4a4a4a" text-anchor="middle" textLength="11.01" lengthAdjust="spacingAndGlyphs" stroke="#4a4a4a" stroke-width="0.18" >500</text>
<text x="406.00" y="698.40" font-size="8.69" fill="#333333" text-anchor="middle" textLength="85.90" lengthAdjust="spacingAndGlyphs" stroke="#333333" stroke-width="0.18" >H3K4me3_IL7R_promoter</text>
<text x="291.90" y="585.20" font-size="9.02" fill="#333333" text-anchor="middle" textLength="91.50" lengthAdjust="spacingAndGlyphs" transform="rotate(-90 291.90 585.20)" stroke="#333333" stroke-width="0.18" >Log2_IC50_Ruxolitinib_nM</text>
<circle cx="325.50" cy="523.30" r="1.35" fill="#c4c4c4" />
<circle cx="341.80" cy="524.50" r="1.35" fill="#c4c4c4" />
<circle cx="328.80" cy="536.30" r="1.35" fill="#c4c4c4" />
<circle cx="319.50" cy="565.50" r="1.35" fill="#c4c4c4" />
<circle cx="381.60" cy="535.90" r="1.35" fill="#0e2c5c" />
<circle cx="365.50" cy="576.10" r="1.35" fill="#0e2c5c" />
<circle cx="441.20" cy="578.70" r="1.35" fill="#0e2c5c" />
<circle cx="487.10" cy="600.50" r="1.35" fill="#0e2c5c" />
<circle cx="445.20" cy="615.00" r="1.35" fill="#0e2c5c" />
<circle cx="430.30" cy="626.50" r="1.35" fill="#0e2c5c" />
<circle cx="423.50" cy="639.30" r="1.35" fill="#0e2c5c" />
<circle cx="477.20" cy="639.90" r="1.35" fill="#0e2c5c" />
<text x="348.80" y="496.60" font-size="7.59" fill="#333333" textLength="28.20" lengthAdjust="spacingAndGlyphs" stroke="#333333" stroke-width="0.18" >Category</text>
<circle cx="384.70" cy="493.40" r="1.2" fill="#b4b4b4" />
<text x="390.90" y="496.00" font-size="7.59" fill="#333333" textLength="14.50" lengthAdjust="spacingAndGlyphs" stroke="#333333" stroke-width="0.18" >T-ALL</text>
<text x="405.20" y="492.40" font-size="4.40" fill="#444" textLength="21.40" lengthAdjust="spacingAndGlyphs" stroke="#444" stroke-width="0.05" >IL7R−/low</text>
<circle cx="434.30" cy="493.40" r="1.35" fill="#0e2c5c" />
<text x="439.00" y="496.00" font-size="7.59" fill="#333333" textLength="15.50" lengthAdjust="spacingAndGlyphs" stroke="#333333" stroke-width="0.18" >T-ALL</text>
<text x="454.80" y="492.40" font-size="4.40" fill="#444" textLength="21.40" lengthAdjust="spacingAndGlyphs" stroke="#444" stroke-width="0.05" >IL7R+/WT</text>
<text x="402.4" y="527.4" font-size="6.9" fill="#333" textLength="58.9" lengthAdjust="spacingAndGlyphs"><tspan font-style="italic">R</tspan> = −0.8, <tspan font-style="italic">P</tspan> = .0019</text>
<rect x="0.5" y="0.5" width="519" height="707" fill="none" stroke="#575757" stroke-width="1"/></svg>
</body></html>
